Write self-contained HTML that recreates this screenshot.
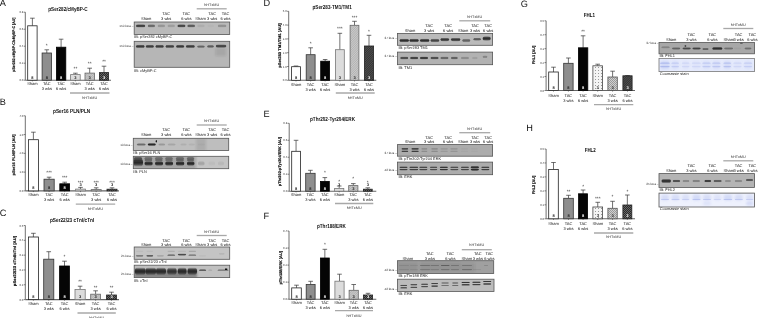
<!DOCTYPE html>
<html><head><meta charset="utf-8"><title>Figure</title>
<style>
html,body{margin:0;padding:0;background:#fff;}
body{width:758px;height:318px;overflow:hidden;font-family:"Liberation Sans", sans-serif;}
svg{display:block;text-rendering:geometricPrecision;will-change:transform;}
</style></head><body>
<svg width="758" height="318" viewBox="0 0 758 318" font-family='"Liberation Sans", sans-serif'>
<defs>
<filter id="bl" x="-50%" y="-100%" width="200%" height="300%"><feGaussianBlur stdDeviation="0.8"/></filter>
<filter id="bl2" x="-50%" y="-100%" width="200%" height="300%"><feGaussianBlur stdDeviation="1.1"/></filter>
<pattern id="hatchL" width="1.6" height="1.6" patternUnits="userSpaceOnUse" patternTransform="rotate(45)"><rect width="1.6" height="1.6" fill="#cbcbcb"/><rect width="0.6" height="1.6" fill="#a9a9a9"/></pattern>
<pattern id="hatchD" width="1.6" height="1.6" patternUnits="userSpaceOnUse" patternTransform="rotate(45)"><rect width="1.6" height="1.6" fill="#333"/><rect width="0.6" height="1.6" fill="#5a5a5a"/></pattern>
<pattern id="dotsL" width="3" height="3" patternUnits="userSpaceOnUse"><rect width="3" height="3" fill="#f4f4f4"/><rect x="1" y="1" width="1" height="1" fill="#999"/></pattern>
<pattern id="chkL" width="2" height="2" patternUnits="userSpaceOnUse"><rect width="2" height="2" fill="#d0d0d0"/><rect width="1" height="1" fill="#9a9a9a"/><rect x="1" y="1" width="1" height="1" fill="#9a9a9a"/></pattern>
<pattern id="chkD" width="2" height="2" patternUnits="userSpaceOnUse"><rect width="2" height="2" fill="#2a2a2a"/><rect width="1" height="1" fill="#666"/><rect x="1" y="1" width="1" height="1" fill="#666"/></pattern>
</defs>
<rect width="758" height="318" fill="#fff"/>
<line x1="25.3" y1="12.2" x2="25.3" y2="80.2" stroke="#333" stroke-width="0.7"/>
<line x1="23.7" y1="12.2" x2="25.3" y2="12.2" stroke="#333" stroke-width="0.6"/>
<text x="23.3" y="13.2" font-size="2.8" text-anchor="end" fill="#333" font-weight="normal" >0.8</text>
<line x1="23.7" y1="29.2" x2="25.3" y2="29.2" stroke="#333" stroke-width="0.6"/>
<text x="23.3" y="30.2" font-size="2.8" text-anchor="end" fill="#333" font-weight="normal" >0.6</text>
<line x1="23.7" y1="46.2" x2="25.3" y2="46.2" stroke="#333" stroke-width="0.6"/>
<text x="23.3" y="47.2" font-size="2.8" text-anchor="end" fill="#333" font-weight="normal" >0.4</text>
<line x1="23.7" y1="63.2" x2="25.3" y2="63.2" stroke="#333" stroke-width="0.6"/>
<text x="23.3" y="64.2" font-size="2.8" text-anchor="end" fill="#333" font-weight="normal" >0.2</text>
<line x1="23.7" y1="80.2" x2="25.3" y2="80.2" stroke="#333" stroke-width="0.6"/>
<text x="23.3" y="81.2" font-size="2.8" text-anchor="end" fill="#333" font-weight="normal" >0.0</text>
<line x1="25.3" y1="80.2" x2="111" y2="80.2" stroke="#666" stroke-width="1.1"/>
<line x1="32.4" y1="25.8" x2="32.4" y2="18.2" stroke="#333" stroke-width="0.7"/>
<line x1="30.1" y1="18.2" x2="34.7" y2="18.2" stroke="#333" stroke-width="0.7"/>
<rect x="27.7" y="25.8" width="9.4" height="54.4" fill="#ffffff" stroke="#222" stroke-width="0.8" />
<line x1="32.4" y1="80.2" x2="32.4" y2="81.4" stroke="#333" stroke-width="0.5"/>
<text x="32.4" y="78.7" font-size="4" text-anchor="middle" fill="#222" font-weight="bold" >8</text>
<text x="32.4" y="85.4" font-size="4" text-anchor="middle" fill="#111" font-weight="normal" >Sham</text>
<line x1="46.8" y1="53" x2="46.8" y2="49.8" stroke="#333" stroke-width="0.7"/>
<line x1="44.5" y1="49.8" x2="49.1" y2="49.8" stroke="#333" stroke-width="0.7"/>
<rect x="42.1" y="53" width="9.4" height="27.2" fill="#8e8e8e" stroke="#333" stroke-width="0.8" />
<line x1="46.8" y1="80.2" x2="46.8" y2="81.4" stroke="#333" stroke-width="0.5"/>
<text x="46.8" y="78.7" font-size="4" text-anchor="middle" fill="#222" font-weight="bold" >8</text>
<text x="46.8" y="47" font-size="4.8" text-anchor="middle" fill="#222" font-weight="normal" >*</text>
<text x="46.8" y="85.4" font-size="4" text-anchor="middle" fill="#111" font-weight="normal" >TAC</text>
<text x="46.8" y="90.4" font-size="4" text-anchor="middle" fill="#111" font-weight="normal" >3 wks</text>
<line x1="61.1" y1="47.2" x2="61.1" y2="39.2" stroke="#333" stroke-width="0.7"/>
<line x1="58.8" y1="39.2" x2="63.4" y2="39.2" stroke="#333" stroke-width="0.7"/>
<rect x="56.4" y="47.2" width="9.4" height="33" fill="#050505" stroke="#000" stroke-width="0.8" />
<line x1="61.1" y1="80.2" x2="61.1" y2="81.4" stroke="#333" stroke-width="0.5"/>
<text x="61.1" y="78.7" font-size="4" text-anchor="middle" fill="#fff" font-weight="bold" >8</text>
<text x="61.1" y="85.4" font-size="4" text-anchor="middle" fill="#111" font-weight="normal" >TAC</text>
<text x="61.1" y="90.4" font-size="4" text-anchor="middle" fill="#111" font-weight="normal" >6 wks</text>
<line x1="75.4" y1="74.6" x2="75.4" y2="73.2" stroke="#333" stroke-width="0.7"/>
<line x1="73.1" y1="73.2" x2="77.7" y2="73.2" stroke="#333" stroke-width="0.7"/>
<rect x="70.6" y="74.6" width="9.6" height="5.6" fill="#dcdcdc" stroke="#777" stroke-width="0.8" />
<line x1="75.4" y1="80.2" x2="75.4" y2="81.4" stroke="#333" stroke-width="0.5"/>
<text x="75.4" y="78.7" font-size="4" text-anchor="middle" fill="#222" font-weight="bold" >3</text>
<text x="75.4" y="69.9" font-size="4.8" text-anchor="middle" fill="#222" font-weight="normal" >**</text>
<text x="75.4" y="85.4" font-size="4" text-anchor="middle" fill="#111" font-weight="normal" >Sham</text>
<line x1="89.7" y1="73.1" x2="89.7" y2="68.2" stroke="#333" stroke-width="0.7"/>
<line x1="87.4" y1="68.2" x2="92" y2="68.2" stroke="#333" stroke-width="0.7"/>
<rect x="85" y="73.1" width="9.4" height="7.1" fill="url(#hatchL)" stroke="#666" stroke-width="0.8" />
<line x1="89.7" y1="80.2" x2="89.7" y2="81.4" stroke="#333" stroke-width="0.5"/>
<text x="89.7" y="78.7" font-size="4" text-anchor="middle" fill="#222" font-weight="bold" >3</text>
<text x="89.7" y="65" font-size="4.8" text-anchor="middle" fill="#222" font-weight="normal" >**</text>
<text x="89.7" y="85.4" font-size="4" text-anchor="middle" fill="#111" font-weight="normal" >TAC</text>
<text x="89.7" y="90.4" font-size="4" text-anchor="middle" fill="#111" font-weight="normal" >3 wks</text>
<line x1="104" y1="72.6" x2="104" y2="66.2" stroke="#333" stroke-width="0.7"/>
<line x1="101.7" y1="66.2" x2="106.3" y2="66.2" stroke="#333" stroke-width="0.7"/>
<rect x="99.4" y="72.6" width="9.2" height="7.6" fill="url(#chkD)" stroke="#222" stroke-width="0.8" />
<line x1="104" y1="80.2" x2="104" y2="81.4" stroke="#333" stroke-width="0.5"/>
<text x="104" y="78.7" font-size="4" text-anchor="middle" fill="#fff" font-weight="bold" >3</text>
<text x="104" y="63" font-size="4.8" text-anchor="middle" fill="#222" font-weight="normal" >**</text>
<text x="104" y="85.4" font-size="4" text-anchor="middle" fill="#111" font-weight="normal" >TAC</text>
<text x="104" y="90.4" font-size="4" text-anchor="middle" fill="#111" font-weight="normal" >6 wks</text>
<line x1="70" y1="93" x2="109.5" y2="93" stroke="#a8a8a8" stroke-width="1.3"/>
<text x="89.75" y="98.8" font-size="3.8" text-anchor="middle" fill="#333" font-weight="normal" >hHTxMU</text>
<text x="68" y="10.5" font-size="5.9" text-anchor="middle" fill="#111" font-weight="bold" textLength="39.4" lengthAdjust="spacingAndGlyphs" >pSer282/cMyBP-C</text>
<text x="0" y="0" font-size="3.9" font-weight="bold" fill="#111" stroke="#111" stroke-width="0.18" text-anchor="middle" textLength="54.4" lengthAdjust="spacingAndGlyphs" transform="translate(15.2,44.8) rotate(-90)">pSer282 cMyBP-C/cMyBP-C [AU]</text>
<text x="-0.3" y="6.4" font-size="9.2" text-anchor="start" fill="#111" font-weight="normal" >A</text>
<line x1="25.3" y1="115.8" x2="25.3" y2="190.9" stroke="#333" stroke-width="0.7"/>
<line x1="23.7" y1="115.8" x2="25.3" y2="115.8" stroke="#333" stroke-width="0.6"/>
<text x="23.3" y="116.8" font-size="2.8" text-anchor="end" fill="#333" font-weight="normal" >4.0</text>
<line x1="23.7" y1="134.57" x2="25.3" y2="134.57" stroke="#333" stroke-width="0.6"/>
<text x="23.3" y="135.57" font-size="2.8" text-anchor="end" fill="#333" font-weight="normal" >3.0</text>
<line x1="23.7" y1="153.35" x2="25.3" y2="153.35" stroke="#333" stroke-width="0.6"/>
<text x="23.3" y="154.35" font-size="2.8" text-anchor="end" fill="#333" font-weight="normal" >2.0</text>
<line x1="23.7" y1="172.12" x2="25.3" y2="172.12" stroke="#333" stroke-width="0.6"/>
<text x="23.3" y="173.12" font-size="2.8" text-anchor="end" fill="#333" font-weight="normal" >1.0</text>
<line x1="23.7" y1="190.9" x2="25.3" y2="190.9" stroke="#333" stroke-width="0.6"/>
<text x="23.3" y="191.9" font-size="2.8" text-anchor="end" fill="#333" font-weight="normal" >0.0</text>
<line x1="25.3" y1="190.9" x2="119" y2="190.9" stroke="#666" stroke-width="1.1"/>
<line x1="33.4" y1="139.7" x2="33.4" y2="132.2" stroke="#333" stroke-width="0.7"/>
<line x1="31.1" y1="132.2" x2="35.7" y2="132.2" stroke="#333" stroke-width="0.7"/>
<rect x="28.4" y="139.7" width="10" height="51.2" fill="#ffffff" stroke="#222" stroke-width="0.8" />
<line x1="33.4" y1="190.9" x2="33.4" y2="192.1" stroke="#333" stroke-width="0.5"/>
<text x="33.4" y="189.4" font-size="4" text-anchor="middle" fill="#222" font-weight="bold" >8</text>
<text x="33.4" y="196.2" font-size="4" text-anchor="middle" fill="#111" font-weight="normal" >Sham</text>
<line x1="49.1" y1="179.2" x2="49.1" y2="177.2" stroke="#333" stroke-width="0.7"/>
<line x1="46.8" y1="177.2" x2="51.4" y2="177.2" stroke="#333" stroke-width="0.7"/>
<rect x="44" y="179.2" width="10.2" height="11.7" fill="#8e8e8e" stroke="#333" stroke-width="0.8" />
<line x1="49.1" y1="190.9" x2="49.1" y2="192.1" stroke="#333" stroke-width="0.5"/>
<text x="49.1" y="189.4" font-size="4" text-anchor="middle" fill="#222" font-weight="bold" >8</text>
<text x="49.1" y="174" font-size="4.8" text-anchor="middle" fill="#222" font-weight="normal" >***</text>
<text x="49.1" y="196.2" font-size="4" text-anchor="middle" fill="#111" font-weight="normal" >TAC</text>
<text x="49.1" y="201.2" font-size="4" text-anchor="middle" fill="#111" font-weight="normal" >3 wks</text>
<line x1="64.7" y1="183.8" x2="64.7" y2="182.2" stroke="#333" stroke-width="0.7"/>
<line x1="62.4" y1="182.2" x2="67" y2="182.2" stroke="#333" stroke-width="0.7"/>
<rect x="59.8" y="183.8" width="9.8" height="7.1" fill="#050505" stroke="#000" stroke-width="0.8" />
<line x1="64.7" y1="190.9" x2="64.7" y2="192.1" stroke="#333" stroke-width="0.5"/>
<text x="64.7" y="189.4" font-size="4" text-anchor="middle" fill="#fff" font-weight="bold" >8</text>
<text x="64.7" y="178.6" font-size="4.8" text-anchor="middle" fill="#222" font-weight="normal" >***</text>
<text x="64.7" y="196.2" font-size="4" text-anchor="middle" fill="#111" font-weight="normal" >TAC</text>
<text x="64.7" y="201.2" font-size="4" text-anchor="middle" fill="#111" font-weight="normal" >6 wks</text>
<line x1="80.5" y1="189.1" x2="80.5" y2="187.4" stroke="#333" stroke-width="0.7"/>
<line x1="78.2" y1="187.4" x2="82.8" y2="187.4" stroke="#333" stroke-width="0.7"/>
<rect x="75.6" y="189.1" width="9.8" height="1.8" fill="#dcdcdc" stroke="#777" stroke-width="0.8" />
<line x1="80.5" y1="190.9" x2="80.5" y2="192.1" stroke="#333" stroke-width="0.5"/>
<text x="80.5" y="186.4" font-size="4" text-anchor="middle" fill="#222" font-weight="bold" >3</text>
<text x="80.5" y="183.8" font-size="4.8" text-anchor="middle" fill="#222" font-weight="normal" >***</text>
<text x="80.5" y="196.2" font-size="4" text-anchor="middle" fill="#111" font-weight="normal" >Sham</text>
<line x1="96.2" y1="189.6" x2="96.2" y2="187.8" stroke="#333" stroke-width="0.7"/>
<line x1="93.9" y1="187.8" x2="98.5" y2="187.8" stroke="#333" stroke-width="0.7"/>
<rect x="91.2" y="189.6" width="10" height="1.3" fill="url(#hatchL)" stroke="#666" stroke-width="0.8" />
<line x1="96.2" y1="190.9" x2="96.2" y2="192.1" stroke="#333" stroke-width="0.5"/>
<text x="96.2" y="186.4" font-size="4" text-anchor="middle" fill="#222" font-weight="bold" >3</text>
<text x="96.2" y="183.8" font-size="4.8" text-anchor="middle" fill="#222" font-weight="normal" >***</text>
<text x="96.2" y="196.2" font-size="4" text-anchor="middle" fill="#111" font-weight="normal" >TAC</text>
<text x="96.2" y="201.2" font-size="4" text-anchor="middle" fill="#111" font-weight="normal" >3 wks</text>
<line x1="112" y1="189.2" x2="112" y2="187.8" stroke="#333" stroke-width="0.7"/>
<line x1="109.7" y1="187.8" x2="114.3" y2="187.8" stroke="#333" stroke-width="0.7"/>
<rect x="107" y="189.2" width="10" height="1.7" fill="url(#chkD)" stroke="#222" stroke-width="0.8" />
<line x1="112" y1="190.9" x2="112" y2="192.1" stroke="#333" stroke-width="0.5"/>
<text x="112" y="186.4" font-size="4" text-anchor="middle" fill="#222" font-weight="bold" >3</text>
<text x="112" y="183.8" font-size="4.8" text-anchor="middle" fill="#222" font-weight="normal" >***</text>
<text x="112" y="196.2" font-size="4" text-anchor="middle" fill="#111" font-weight="normal" >TAC</text>
<text x="112" y="201.2" font-size="4" text-anchor="middle" fill="#111" font-weight="normal" >6 wks</text>
<line x1="75.8" y1="204.2" x2="115.2" y2="204.2" stroke="#a8a8a8" stroke-width="1.3"/>
<text x="95.5" y="209.8" font-size="3.8" text-anchor="middle" fill="#333" font-weight="normal" >hHTxMU</text>
<text x="71.6" y="113" font-size="5.9" text-anchor="middle" fill="#111" font-weight="bold" textLength="37.2" lengthAdjust="spacingAndGlyphs" >pSer16 PLN/PLN</text>
<text x="0" y="0" font-size="3.9" font-weight="bold" fill="#111" stroke="#111" stroke-width="0.18" text-anchor="middle" textLength="41" lengthAdjust="spacingAndGlyphs" transform="translate(15,155) rotate(-90)">pSer16 PLN/PLN [AU]</text>
<text x="-0.3" y="105.4" font-size="9.2" text-anchor="start" fill="#111" font-weight="normal" >B</text>
<line x1="25.3" y1="225.5" x2="25.3" y2="299.6" stroke="#333" stroke-width="0.7"/>
<line x1="23.7" y1="225.5" x2="25.3" y2="225.5" stroke="#333" stroke-width="0.6"/>
<text x="23.3" y="226.5" font-size="2.8" text-anchor="end" fill="#333" font-weight="normal" >0.5</text>
<line x1="23.7" y1="240.32" x2="25.3" y2="240.32" stroke="#333" stroke-width="0.6"/>
<text x="23.3" y="241.32" font-size="2.8" text-anchor="end" fill="#333" font-weight="normal" >0.4</text>
<line x1="23.7" y1="255.14" x2="25.3" y2="255.14" stroke="#333" stroke-width="0.6"/>
<text x="23.3" y="256.14" font-size="2.8" text-anchor="end" fill="#333" font-weight="normal" >0.3</text>
<line x1="23.7" y1="269.96" x2="25.3" y2="269.96" stroke="#333" stroke-width="0.6"/>
<text x="23.3" y="270.96" font-size="2.8" text-anchor="end" fill="#333" font-weight="normal" >0.2</text>
<line x1="23.7" y1="284.78" x2="25.3" y2="284.78" stroke="#333" stroke-width="0.6"/>
<text x="23.3" y="285.78" font-size="2.8" text-anchor="end" fill="#333" font-weight="normal" >0.1</text>
<line x1="23.7" y1="299.6" x2="25.3" y2="299.6" stroke="#333" stroke-width="0.6"/>
<text x="23.3" y="300.6" font-size="2.8" text-anchor="end" fill="#333" font-weight="normal" >0.0</text>
<line x1="25.3" y1="299.6" x2="119" y2="299.6" stroke="#666" stroke-width="1.1"/>
<line x1="33.4" y1="237" x2="33.4" y2="233.3" stroke="#333" stroke-width="0.7"/>
<line x1="31.1" y1="233.3" x2="35.7" y2="233.3" stroke="#333" stroke-width="0.7"/>
<rect x="28.4" y="237" width="10" height="62.6" fill="#ffffff" stroke="#222" stroke-width="0.8" />
<line x1="33.4" y1="299.6" x2="33.4" y2="300.8" stroke="#333" stroke-width="0.5"/>
<text x="33.4" y="298.1" font-size="4" text-anchor="middle" fill="#222" font-weight="bold" >8</text>
<text x="33.4" y="305.4" font-size="4" text-anchor="middle" fill="#111" font-weight="normal" >Sham</text>
<line x1="48.75" y1="259.2" x2="48.75" y2="251.7" stroke="#333" stroke-width="0.7"/>
<line x1="46.45" y1="251.7" x2="51.05" y2="251.7" stroke="#333" stroke-width="0.7"/>
<rect x="43.7" y="259.2" width="10.1" height="40.4" fill="#8e8e8e" stroke="#333" stroke-width="0.8" />
<line x1="48.75" y1="299.6" x2="48.75" y2="300.8" stroke="#333" stroke-width="0.5"/>
<text x="48.75" y="298.1" font-size="4" text-anchor="middle" fill="#222" font-weight="bold" >8</text>
<text x="48.75" y="305.4" font-size="4" text-anchor="middle" fill="#111" font-weight="normal" >TAC</text>
<text x="48.75" y="310.4" font-size="4" text-anchor="middle" fill="#111" font-weight="normal" >3 wks</text>
<line x1="64.5" y1="266" x2="64.5" y2="261.2" stroke="#333" stroke-width="0.7"/>
<line x1="62.2" y1="261.2" x2="66.8" y2="261.2" stroke="#333" stroke-width="0.7"/>
<rect x="59.6" y="266" width="9.8" height="33.6" fill="#050505" stroke="#000" stroke-width="0.8" />
<line x1="64.5" y1="299.6" x2="64.5" y2="300.8" stroke="#333" stroke-width="0.5"/>
<text x="64.5" y="298.1" font-size="4" text-anchor="middle" fill="#fff" font-weight="bold" >8</text>
<text x="64.5" y="258.3" font-size="4.8" text-anchor="middle" fill="#222" font-weight="normal" >*</text>
<text x="64.5" y="305.4" font-size="4" text-anchor="middle" fill="#111" font-weight="normal" >TAC</text>
<text x="64.5" y="310.4" font-size="4" text-anchor="middle" fill="#111" font-weight="normal" >6 wks</text>
<line x1="80.1" y1="289.5" x2="80.1" y2="286.2" stroke="#333" stroke-width="0.7"/>
<line x1="77.8" y1="286.2" x2="82.4" y2="286.2" stroke="#333" stroke-width="0.7"/>
<rect x="75" y="289.5" width="10.2" height="10.1" fill="#dcdcdc" stroke="#777" stroke-width="0.8" />
<line x1="80.1" y1="299.6" x2="80.1" y2="300.8" stroke="#333" stroke-width="0.5"/>
<text x="80.1" y="298.1" font-size="4" text-anchor="middle" fill="#222" font-weight="bold" >3</text>
<text x="80.1" y="283.4" font-size="4.8" text-anchor="middle" fill="#222" font-weight="normal" >**</text>
<text x="80.1" y="305.4" font-size="4" text-anchor="middle" fill="#111" font-weight="normal" >Sham</text>
<line x1="95.6" y1="294.2" x2="95.6" y2="290.8" stroke="#333" stroke-width="0.7"/>
<line x1="93.3" y1="290.8" x2="97.9" y2="290.8" stroke="#333" stroke-width="0.7"/>
<rect x="90.7" y="294.2" width="9.8" height="5.4" fill="url(#hatchL)" stroke="#666" stroke-width="0.8" />
<line x1="95.6" y1="299.6" x2="95.6" y2="300.8" stroke="#333" stroke-width="0.5"/>
<text x="95.6" y="298.1" font-size="4" text-anchor="middle" fill="#222" font-weight="bold" >3</text>
<text x="95.6" y="288.6" font-size="4.8" text-anchor="middle" fill="#222" font-weight="normal" >**</text>
<text x="95.6" y="305.4" font-size="4" text-anchor="middle" fill="#111" font-weight="normal" >TAC</text>
<text x="95.6" y="310.4" font-size="4" text-anchor="middle" fill="#111" font-weight="normal" >3 wks</text>
<line x1="111.5" y1="295" x2="111.5" y2="292.2" stroke="#333" stroke-width="0.7"/>
<line x1="109.2" y1="292.2" x2="113.8" y2="292.2" stroke="#333" stroke-width="0.7"/>
<rect x="106.6" y="295" width="9.8" height="4.6" fill="url(#chkD)" stroke="#222" stroke-width="0.8" />
<line x1="111.5" y1="299.6" x2="111.5" y2="300.8" stroke="#333" stroke-width="0.5"/>
<text x="111.5" y="298.1" font-size="4" text-anchor="middle" fill="#fff" font-weight="bold" >3</text>
<text x="111.5" y="289" font-size="4.8" text-anchor="middle" fill="#222" font-weight="normal" >**</text>
<text x="111.5" y="305.4" font-size="4" text-anchor="middle" fill="#111" font-weight="normal" >TAC</text>
<text x="111.5" y="310.4" font-size="4" text-anchor="middle" fill="#111" font-weight="normal" >6 wks</text>
<line x1="77.5" y1="313" x2="115.8" y2="313" stroke="#a8a8a8" stroke-width="1.3"/>
<text x="96.65" y="318.8" font-size="3.8" text-anchor="middle" fill="#333" font-weight="normal" >hHTxMU</text>
<text x="72.1" y="222.2" font-size="5.9" text-anchor="middle" fill="#111" font-weight="bold" textLength="44.2" lengthAdjust="spacingAndGlyphs" >pSer22/23 cTnI/cTnI</text>
<text x="0" y="0" font-size="3.9" font-weight="bold" fill="#111" stroke="#111" stroke-width="0.18" text-anchor="middle" textLength="50.4" lengthAdjust="spacingAndGlyphs" transform="translate(16.2,261) rotate(-90)">pSer22/23 cTnI/cTnI [AU]</text>
<text x="-0.3" y="216.4" font-size="9.2" text-anchor="start" fill="#111" font-weight="normal" >C</text>
<line x1="288.7" y1="11.3" x2="288.7" y2="80.3" stroke="#333" stroke-width="0.7"/>
<line x1="287.1" y1="11.3" x2="288.7" y2="11.3" stroke="#333" stroke-width="0.6"/>
<text x="286.7" y="12.3" font-size="2.8" text-anchor="end" fill="#333" font-weight="normal" >5.0</text>
<line x1="287.1" y1="25.1" x2="288.7" y2="25.1" stroke="#333" stroke-width="0.6"/>
<text x="286.7" y="26.1" font-size="2.8" text-anchor="end" fill="#333" font-weight="normal" >4.0</text>
<line x1="287.1" y1="38.9" x2="288.7" y2="38.9" stroke="#333" stroke-width="0.6"/>
<text x="286.7" y="39.9" font-size="2.8" text-anchor="end" fill="#333" font-weight="normal" >3.0</text>
<line x1="287.1" y1="52.7" x2="288.7" y2="52.7" stroke="#333" stroke-width="0.6"/>
<text x="286.7" y="53.7" font-size="2.8" text-anchor="end" fill="#333" font-weight="normal" >2.0</text>
<line x1="287.1" y1="66.5" x2="288.7" y2="66.5" stroke="#333" stroke-width="0.6"/>
<text x="286.7" y="67.5" font-size="2.8" text-anchor="end" fill="#333" font-weight="normal" >1.0</text>
<line x1="287.1" y1="80.3" x2="288.7" y2="80.3" stroke="#333" stroke-width="0.6"/>
<text x="286.7" y="81.3" font-size="2.8" text-anchor="end" fill="#333" font-weight="normal" >0.0</text>
<line x1="288.7" y1="80.3" x2="376.3" y2="80.3" stroke="#666" stroke-width="1.1"/>
<line x1="296" y1="66.7" x2="296" y2="66" stroke="#333" stroke-width="0.7"/>
<line x1="293.7" y1="66" x2="298.3" y2="66" stroke="#333" stroke-width="0.7"/>
<rect x="291.6" y="66.7" width="8.8" height="13.6" fill="#ffffff" stroke="#222" stroke-width="0.8" />
<line x1="296" y1="80.3" x2="296" y2="81.5" stroke="#333" stroke-width="0.5"/>
<text x="296" y="78.8" font-size="4" text-anchor="middle" fill="#222" font-weight="bold" >8</text>
<text x="296" y="86" font-size="4" text-anchor="middle" fill="#111" font-weight="normal" >Sham</text>
<line x1="310.65" y1="54.7" x2="310.65" y2="47.8" stroke="#333" stroke-width="0.7"/>
<line x1="308.35" y1="47.8" x2="312.95" y2="47.8" stroke="#333" stroke-width="0.7"/>
<rect x="306.2" y="54.7" width="8.9" height="25.6" fill="#8e8e8e" stroke="#333" stroke-width="0.8" />
<line x1="310.65" y1="80.3" x2="310.65" y2="81.5" stroke="#333" stroke-width="0.5"/>
<text x="310.65" y="78.8" font-size="4" text-anchor="middle" fill="#222" font-weight="bold" >8</text>
<text x="310.65" y="45" font-size="4.8" text-anchor="middle" fill="#222" font-weight="normal" >*</text>
<text x="310.65" y="86" font-size="4" text-anchor="middle" fill="#111" font-weight="normal" >TAC</text>
<text x="310.65" y="90.7" font-size="4" text-anchor="middle" fill="#111" font-weight="normal" >3 wks</text>
<line x1="325.15" y1="61.2" x2="325.15" y2="59.5" stroke="#333" stroke-width="0.7"/>
<line x1="322.85" y1="59.5" x2="327.45" y2="59.5" stroke="#333" stroke-width="0.7"/>
<rect x="320.7" y="61.2" width="8.9" height="19.1" fill="#050505" stroke="#000" stroke-width="0.8" />
<line x1="325.15" y1="80.3" x2="325.15" y2="81.5" stroke="#333" stroke-width="0.5"/>
<text x="325.15" y="78.8" font-size="4" text-anchor="middle" fill="#fff" font-weight="bold" >8</text>
<text x="325.15" y="86" font-size="4" text-anchor="middle" fill="#111" font-weight="normal" >TAC</text>
<text x="325.15" y="90.7" font-size="4" text-anchor="middle" fill="#111" font-weight="normal" >6 wks</text>
<line x1="339.85" y1="49.7" x2="339.85" y2="33.3" stroke="#333" stroke-width="0.7"/>
<line x1="337.55" y1="33.3" x2="342.15" y2="33.3" stroke="#333" stroke-width="0.7"/>
<rect x="335.4" y="49.7" width="8.9" height="30.6" fill="#dcdcdc" stroke="#777" stroke-width="0.8" />
<line x1="339.85" y1="80.3" x2="339.85" y2="81.5" stroke="#333" stroke-width="0.5"/>
<text x="339.85" y="78.8" font-size="4" text-anchor="middle" fill="#222" font-weight="bold" >3</text>
<text x="339.85" y="30" font-size="4.8" text-anchor="middle" fill="#222" font-weight="normal" >***</text>
<text x="339.85" y="86" font-size="4" text-anchor="middle" fill="#111" font-weight="normal" >Sham</text>
<line x1="354.5" y1="25.3" x2="354.5" y2="21.3" stroke="#333" stroke-width="0.7"/>
<line x1="352.2" y1="21.3" x2="356.8" y2="21.3" stroke="#333" stroke-width="0.7"/>
<rect x="350.1" y="25.3" width="8.8" height="55" fill="url(#hatchL)" stroke="#666" stroke-width="0.8" />
<line x1="354.5" y1="80.3" x2="354.5" y2="81.5" stroke="#333" stroke-width="0.5"/>
<text x="354.5" y="78.8" font-size="4" text-anchor="middle" fill="#222" font-weight="bold" >3</text>
<text x="354.5" y="18.7" font-size="4.8" text-anchor="middle" fill="#222" font-weight="normal" >***</text>
<text x="354.5" y="86" font-size="4" text-anchor="middle" fill="#111" font-weight="normal" >TAC</text>
<text x="354.5" y="90.7" font-size="4" text-anchor="middle" fill="#111" font-weight="normal" >3 wks</text>
<line x1="369" y1="46" x2="369" y2="35.3" stroke="#333" stroke-width="0.7"/>
<line x1="366.7" y1="35.3" x2="371.3" y2="35.3" stroke="#333" stroke-width="0.7"/>
<rect x="364.4" y="46" width="9.2" height="34.3" fill="url(#hatchD)" stroke="#222" stroke-width="0.8" />
<line x1="369" y1="80.3" x2="369" y2="81.5" stroke="#333" stroke-width="0.5"/>
<text x="369" y="78.8" font-size="4" text-anchor="middle" fill="#fff" font-weight="bold" >3</text>
<text x="369" y="32.5" font-size="4.8" text-anchor="middle" fill="#222" font-weight="normal" >*</text>
<text x="369" y="86" font-size="4" text-anchor="middle" fill="#111" font-weight="normal" >TAC</text>
<text x="369" y="90.7" font-size="4" text-anchor="middle" fill="#111" font-weight="normal" >6 wks</text>
<line x1="335.8" y1="93" x2="374.7" y2="93" stroke="#a8a8a8" stroke-width="1.3"/>
<text x="355.25" y="98.7" font-size="3.8" text-anchor="middle" fill="#333" font-weight="normal" >hHTxMU</text>
<text x="332.1" y="8.5" font-size="5.9" text-anchor="middle" fill="#111" font-weight="bold" textLength="39.2" lengthAdjust="spacingAndGlyphs" >pSer283-TM1/TM1</text>
<text x="0" y="0" font-size="3.9" font-weight="bold" fill="#111" stroke="#111" stroke-width="0.18" text-anchor="middle" textLength="44.3" lengthAdjust="spacingAndGlyphs" transform="translate(281.2,45.65) rotate(-90)">pSer283 TM1/TM1 [AU]</text>
<text x="263.6" y="6" font-size="9.2" text-anchor="start" fill="#111" font-weight="normal" >D</text>
<line x1="289.2" y1="123.3" x2="289.2" y2="191.2" stroke="#333" stroke-width="0.7"/>
<line x1="287.6" y1="123.3" x2="289.2" y2="123.3" stroke="#333" stroke-width="0.6"/>
<text x="287.2" y="124.3" font-size="2.8" text-anchor="end" fill="#333" font-weight="normal" >0.8</text>
<line x1="287.6" y1="140.28" x2="289.2" y2="140.28" stroke="#333" stroke-width="0.6"/>
<text x="287.2" y="141.28" font-size="2.8" text-anchor="end" fill="#333" font-weight="normal" >0.6</text>
<line x1="287.6" y1="157.25" x2="289.2" y2="157.25" stroke="#333" stroke-width="0.6"/>
<text x="287.2" y="158.25" font-size="2.8" text-anchor="end" fill="#333" font-weight="normal" >0.4</text>
<line x1="287.6" y1="174.22" x2="289.2" y2="174.22" stroke="#333" stroke-width="0.6"/>
<text x="287.2" y="175.22" font-size="2.8" text-anchor="end" fill="#333" font-weight="normal" >0.2</text>
<line x1="287.6" y1="191.2" x2="289.2" y2="191.2" stroke="#333" stroke-width="0.6"/>
<text x="287.2" y="192.2" font-size="2.8" text-anchor="end" fill="#333" font-weight="normal" >0.0</text>
<line x1="289.2" y1="191.2" x2="376.3" y2="191.2" stroke="#666" stroke-width="1.1"/>
<line x1="296.05" y1="151.3" x2="296.05" y2="140.3" stroke="#333" stroke-width="0.7"/>
<line x1="293.75" y1="140.3" x2="298.35" y2="140.3" stroke="#333" stroke-width="0.7"/>
<rect x="291.7" y="151.3" width="8.7" height="39.9" fill="#ffffff" stroke="#222" stroke-width="0.8" />
<line x1="296.05" y1="191.2" x2="296.05" y2="192.4" stroke="#333" stroke-width="0.5"/>
<text x="296.05" y="189.7" font-size="4" text-anchor="middle" fill="#222" font-weight="bold" >8</text>
<text x="296.05" y="196" font-size="4" text-anchor="middle" fill="#111" font-weight="normal" >Sham</text>
<line x1="310.4" y1="173.3" x2="310.4" y2="170.3" stroke="#333" stroke-width="0.7"/>
<line x1="308.1" y1="170.3" x2="312.7" y2="170.3" stroke="#333" stroke-width="0.7"/>
<rect x="305.7" y="173.3" width="9.4" height="17.9" fill="#8e8e8e" stroke="#333" stroke-width="0.8" />
<line x1="310.4" y1="191.2" x2="310.4" y2="192.4" stroke="#333" stroke-width="0.5"/>
<text x="310.4" y="189.7" font-size="4" text-anchor="middle" fill="#222" font-weight="bold" >8</text>
<text x="310.4" y="196" font-size="4" text-anchor="middle" fill="#111" font-weight="normal" >TAC</text>
<text x="310.4" y="201" font-size="4" text-anchor="middle" fill="#111" font-weight="normal" >3 wks</text>
<line x1="324.85" y1="181.4" x2="324.85" y2="177.6" stroke="#333" stroke-width="0.7"/>
<line x1="322.55" y1="177.6" x2="327.15" y2="177.6" stroke="#333" stroke-width="0.7"/>
<rect x="320.4" y="181.4" width="8.9" height="9.8" fill="#050505" stroke="#000" stroke-width="0.8" />
<line x1="324.85" y1="191.2" x2="324.85" y2="192.4" stroke="#333" stroke-width="0.5"/>
<text x="324.85" y="189.7" font-size="4" text-anchor="middle" fill="#fff" font-weight="bold" >8</text>
<text x="324.85" y="174.4" font-size="4.8" text-anchor="middle" fill="#222" font-weight="normal" >*</text>
<text x="324.85" y="196" font-size="4" text-anchor="middle" fill="#111" font-weight="normal" >TAC</text>
<text x="324.85" y="201" font-size="4" text-anchor="middle" fill="#111" font-weight="normal" >6 wks</text>
<line x1="339.2" y1="188.4" x2="339.2" y2="186" stroke="#333" stroke-width="0.7"/>
<line x1="336.9" y1="186" x2="341.5" y2="186" stroke="#333" stroke-width="0.7"/>
<rect x="334.6" y="188.4" width="9.2" height="2.8" fill="#dcdcdc" stroke="#777" stroke-width="0.8" />
<line x1="339.2" y1="191.2" x2="339.2" y2="192.4" stroke="#333" stroke-width="0.5"/>
<text x="339.2" y="186.2" font-size="4" text-anchor="middle" fill="#222" font-weight="bold" >3</text>
<text x="339.2" y="183.2" font-size="4.8" text-anchor="middle" fill="#222" font-weight="normal" >*</text>
<text x="339.2" y="196" font-size="4" text-anchor="middle" fill="#111" font-weight="normal" >Sham</text>
<line x1="353.3" y1="185.6" x2="353.3" y2="183.6" stroke="#333" stroke-width="0.7"/>
<line x1="351" y1="183.6" x2="355.6" y2="183.6" stroke="#333" stroke-width="0.7"/>
<rect x="348.7" y="185.6" width="9.2" height="5.6" fill="url(#hatchL)" stroke="#666" stroke-width="0.8" />
<line x1="353.3" y1="191.2" x2="353.3" y2="192.4" stroke="#333" stroke-width="0.5"/>
<text x="353.3" y="189.7" font-size="4" text-anchor="middle" fill="#222" font-weight="bold" >3</text>
<text x="353.3" y="179.8" font-size="4.8" text-anchor="middle" fill="#222" font-weight="normal" >*</text>
<text x="353.3" y="196" font-size="4" text-anchor="middle" fill="#111" font-weight="normal" >TAC</text>
<text x="353.3" y="201" font-size="4" text-anchor="middle" fill="#111" font-weight="normal" >3 wks</text>
<line x1="367.8" y1="189.2" x2="367.8" y2="187.8" stroke="#333" stroke-width="0.7"/>
<line x1="365.5" y1="187.8" x2="370.1" y2="187.8" stroke="#333" stroke-width="0.7"/>
<rect x="363.4" y="189.2" width="8.8" height="2" fill="url(#chkD)" stroke="#222" stroke-width="0.8" />
<line x1="367.8" y1="191.2" x2="367.8" y2="192.4" stroke="#333" stroke-width="0.5"/>
<text x="367.8" y="186.4" font-size="4" text-anchor="middle" fill="#222" font-weight="bold" >3</text>
<text x="367.8" y="183.6" font-size="4.8" text-anchor="middle" fill="#222" font-weight="normal" >*</text>
<text x="367.8" y="196" font-size="4" text-anchor="middle" fill="#111" font-weight="normal" >TAC</text>
<text x="367.8" y="201" font-size="4" text-anchor="middle" fill="#111" font-weight="normal" >6 wks</text>
<line x1="335" y1="203.5" x2="373.3" y2="203.5" stroke="#a8a8a8" stroke-width="1.3"/>
<text x="354.15" y="209" font-size="3.8" text-anchor="middle" fill="#333" font-weight="normal" >hHTxMU</text>
<text x="332.5" y="120.8" font-size="5.9" text-anchor="middle" fill="#111" font-weight="bold" textLength="45" lengthAdjust="spacingAndGlyphs" >pThr202-Tyr204/ERK</text>
<text x="0" y="0" font-size="3.9" font-weight="bold" fill="#111" stroke="#111" stroke-width="0.18" text-anchor="middle" textLength="49.2" lengthAdjust="spacingAndGlyphs" transform="translate(281.3,161.6) rotate(-90)">pThr202-pTyr204/ERK [AU]</text>
<text x="263.6" y="116.5" font-size="9.2" text-anchor="start" fill="#111" font-weight="normal" >E</text>
<line x1="289" y1="231" x2="289" y2="299.2" stroke="#333" stroke-width="0.7"/>
<line x1="287.4" y1="231" x2="289" y2="231" stroke="#333" stroke-width="0.6"/>
<text x="287" y="232" font-size="2.8" text-anchor="end" fill="#333" font-weight="normal" >0.4</text>
<line x1="287.4" y1="248.05" x2="289" y2="248.05" stroke="#333" stroke-width="0.6"/>
<text x="287" y="249.05" font-size="2.8" text-anchor="end" fill="#333" font-weight="normal" >0.3</text>
<line x1="287.4" y1="265.1" x2="289" y2="265.1" stroke="#333" stroke-width="0.6"/>
<text x="287" y="266.1" font-size="2.8" text-anchor="end" fill="#333" font-weight="normal" >0.2</text>
<line x1="287.4" y1="282.15" x2="289" y2="282.15" stroke="#333" stroke-width="0.6"/>
<text x="287" y="283.15" font-size="2.8" text-anchor="end" fill="#333" font-weight="normal" >0.1</text>
<line x1="287.4" y1="299.2" x2="289" y2="299.2" stroke="#333" stroke-width="0.6"/>
<text x="287" y="300.2" font-size="2.8" text-anchor="end" fill="#333" font-weight="normal" >0.0</text>
<line x1="289" y1="299.2" x2="376.3" y2="299.2" stroke="#666" stroke-width="1.1"/>
<line x1="296.5" y1="287.9" x2="296.5" y2="285.2" stroke="#333" stroke-width="0.7"/>
<line x1="294.2" y1="285.2" x2="298.8" y2="285.2" stroke="#333" stroke-width="0.7"/>
<rect x="291.7" y="287.9" width="9.6" height="11.3" fill="#ffffff" stroke="#222" stroke-width="0.8" />
<line x1="296.5" y1="299.2" x2="296.5" y2="300.4" stroke="#333" stroke-width="0.5"/>
<text x="296.5" y="297.7" font-size="4" text-anchor="middle" fill="#222" font-weight="bold" >8</text>
<text x="296.5" y="304.4" font-size="4" text-anchor="middle" fill="#111" font-weight="normal" >Sham</text>
<line x1="310.65" y1="284.5" x2="310.65" y2="281.3" stroke="#333" stroke-width="0.7"/>
<line x1="308.35" y1="281.3" x2="312.95" y2="281.3" stroke="#333" stroke-width="0.7"/>
<rect x="306.2" y="284.5" width="8.9" height="14.7" fill="#8e8e8e" stroke="#333" stroke-width="0.8" />
<line x1="310.65" y1="299.2" x2="310.65" y2="300.4" stroke="#333" stroke-width="0.5"/>
<text x="310.65" y="297.7" font-size="4" text-anchor="middle" fill="#222" font-weight="bold" >8</text>
<text x="310.65" y="304.4" font-size="4" text-anchor="middle" fill="#111" font-weight="normal" >TAC</text>
<text x="310.65" y="309.4" font-size="4" text-anchor="middle" fill="#111" font-weight="normal" >3 wks</text>
<line x1="324.85" y1="258" x2="324.85" y2="249.3" stroke="#333" stroke-width="0.7"/>
<line x1="322.55" y1="249.3" x2="327.15" y2="249.3" stroke="#333" stroke-width="0.7"/>
<rect x="320.4" y="258" width="8.9" height="41.2" fill="#050505" stroke="#000" stroke-width="0.8" />
<line x1="324.85" y1="299.2" x2="324.85" y2="300.4" stroke="#333" stroke-width="0.5"/>
<text x="324.85" y="297.7" font-size="4" text-anchor="middle" fill="#fff" font-weight="bold" >8</text>
<text x="324.85" y="246" font-size="4.8" text-anchor="middle" fill="#222" font-weight="normal" >*</text>
<text x="324.85" y="304.4" font-size="4" text-anchor="middle" fill="#111" font-weight="normal" >TAC</text>
<text x="324.85" y="309.4" font-size="4" text-anchor="middle" fill="#111" font-weight="normal" >6 wks</text>
<line x1="339.5" y1="281.2" x2="339.5" y2="274.2" stroke="#333" stroke-width="0.7"/>
<line x1="337.2" y1="274.2" x2="341.8" y2="274.2" stroke="#333" stroke-width="0.7"/>
<rect x="334.9" y="281.2" width="9.2" height="18" fill="#dcdcdc" stroke="#777" stroke-width="0.8" />
<line x1="339.5" y1="299.2" x2="339.5" y2="300.4" stroke="#333" stroke-width="0.5"/>
<text x="339.5" y="297.7" font-size="4" text-anchor="middle" fill="#222" font-weight="bold" >3</text>
<text x="339.5" y="304.4" font-size="4" text-anchor="middle" fill="#111" font-weight="normal" >Sham</text>
<line x1="353.7" y1="290.3" x2="353.7" y2="284.5" stroke="#333" stroke-width="0.7"/>
<line x1="351.4" y1="284.5" x2="356" y2="284.5" stroke="#333" stroke-width="0.7"/>
<rect x="349.1" y="290.3" width="9.2" height="8.9" fill="url(#hatchL)" stroke="#666" stroke-width="0.8" />
<line x1="353.7" y1="299.2" x2="353.7" y2="300.4" stroke="#333" stroke-width="0.5"/>
<text x="353.7" y="297.7" font-size="4" text-anchor="middle" fill="#222" font-weight="bold" >3</text>
<text x="353.7" y="304.4" font-size="4" text-anchor="middle" fill="#111" font-weight="normal" >TAC</text>
<text x="353.7" y="309.4" font-size="4" text-anchor="middle" fill="#111" font-weight="normal" >3 wks</text>
<line x1="368" y1="295" x2="368" y2="293.3" stroke="#333" stroke-width="0.7"/>
<line x1="365.7" y1="293.3" x2="370.3" y2="293.3" stroke="#333" stroke-width="0.7"/>
<rect x="363.4" y="295" width="9.2" height="4.2" fill="url(#chkD)" stroke="#222" stroke-width="0.8" />
<line x1="368" y1="299.2" x2="368" y2="300.4" stroke="#333" stroke-width="0.5"/>
<text x="368" y="297.7" font-size="4" text-anchor="middle" fill="#fff" font-weight="bold" >3</text>
<text x="368" y="304.4" font-size="4" text-anchor="middle" fill="#111" font-weight="normal" >TAC</text>
<text x="368" y="309.4" font-size="4" text-anchor="middle" fill="#111" font-weight="normal" >6 wks</text>
<line x1="335" y1="310.6" x2="373" y2="310.6" stroke="#a8a8a8" stroke-width="1.3"/>
<text x="354" y="316.5" font-size="3.8" text-anchor="middle" fill="#333" font-weight="normal" >hHTxMU</text>
<text x="331.4" y="227.8" font-size="5.9" text-anchor="middle" fill="#111" font-weight="bold" textLength="28.8" lengthAdjust="spacingAndGlyphs" >pThr188/ERK</text>
<text x="0" y="0" font-size="3.9" font-weight="bold" fill="#111" stroke="#111" stroke-width="0.18" text-anchor="middle" textLength="33.6" lengthAdjust="spacingAndGlyphs" transform="translate(281.5,267.8) rotate(-90)">pThr188/ERK [AU]</text>
<text x="263.6" y="218.5" font-size="9.2" text-anchor="start" fill="#111" font-weight="normal" >F</text>
<line x1="546.1" y1="20.8" x2="546.1" y2="90.5" stroke="#333" stroke-width="0.7"/>
<line x1="544.5" y1="20.8" x2="546.1" y2="20.8" stroke="#333" stroke-width="0.6"/>
<text x="544.1" y="21.8" font-size="2.8" text-anchor="end" fill="#333" font-weight="normal" >0.5</text>
<line x1="544.5" y1="34.74" x2="546.1" y2="34.74" stroke="#333" stroke-width="0.6"/>
<text x="544.1" y="35.74" font-size="2.8" text-anchor="end" fill="#333" font-weight="normal" >0.4</text>
<line x1="544.5" y1="48.68" x2="546.1" y2="48.68" stroke="#333" stroke-width="0.6"/>
<text x="544.1" y="49.68" font-size="2.8" text-anchor="end" fill="#333" font-weight="normal" >0.3</text>
<line x1="544.5" y1="62.62" x2="546.1" y2="62.62" stroke="#333" stroke-width="0.6"/>
<text x="544.1" y="63.62" font-size="2.8" text-anchor="end" fill="#333" font-weight="normal" >0.2</text>
<line x1="544.5" y1="76.56" x2="546.1" y2="76.56" stroke="#333" stroke-width="0.6"/>
<text x="544.1" y="77.56" font-size="2.8" text-anchor="end" fill="#333" font-weight="normal" >0.1</text>
<line x1="544.5" y1="90.5" x2="546.1" y2="90.5" stroke="#333" stroke-width="0.6"/>
<text x="544.1" y="91.5" font-size="2.8" text-anchor="end" fill="#333" font-weight="normal" >0.0</text>
<line x1="546.1" y1="90.5" x2="635" y2="90.5" stroke="#666" stroke-width="1.1"/>
<line x1="553.5" y1="72" x2="553.5" y2="67.2" stroke="#333" stroke-width="0.7"/>
<line x1="551.2" y1="67.2" x2="555.8" y2="67.2" stroke="#333" stroke-width="0.7"/>
<rect x="548.7" y="72" width="9.6" height="18.5" fill="#ffffff" stroke="#222" stroke-width="0.8" />
<line x1="553.5" y1="90.5" x2="553.5" y2="91.7" stroke="#333" stroke-width="0.5"/>
<text x="553.5" y="89" font-size="4" text-anchor="middle" fill="#222" font-weight="bold" >8</text>
<text x="553.5" y="96.9" font-size="4" text-anchor="middle" fill="#111" font-weight="normal" >Sham</text>
<line x1="568.4" y1="63.3" x2="568.4" y2="58" stroke="#333" stroke-width="0.7"/>
<line x1="566.1" y1="58" x2="570.7" y2="58" stroke="#333" stroke-width="0.7"/>
<rect x="563.7" y="63.3" width="9.4" height="27.2" fill="#8e8e8e" stroke="#333" stroke-width="0.8" />
<line x1="568.4" y1="90.5" x2="568.4" y2="91.7" stroke="#333" stroke-width="0.5"/>
<text x="568.4" y="89" font-size="4" text-anchor="middle" fill="#222" font-weight="bold" >8</text>
<text x="568.4" y="96.9" font-size="4" text-anchor="middle" fill="#111" font-weight="normal" >TAC</text>
<text x="568.4" y="101.9" font-size="4" text-anchor="middle" fill="#111" font-weight="normal" >3 wks</text>
<line x1="583.1" y1="47.8" x2="583.1" y2="35.8" stroke="#333" stroke-width="0.7"/>
<line x1="580.8" y1="35.8" x2="585.4" y2="35.8" stroke="#333" stroke-width="0.7"/>
<rect x="578.4" y="47.8" width="9.4" height="42.7" fill="#050505" stroke="#000" stroke-width="0.8" />
<line x1="583.1" y1="90.5" x2="583.1" y2="91.7" stroke="#333" stroke-width="0.5"/>
<text x="583.1" y="89" font-size="4" text-anchor="middle" fill="#fff" font-weight="bold" >8</text>
<text x="583.1" y="32.5" font-size="4.8" text-anchor="middle" fill="#222" font-weight="normal" >**</text>
<text x="583.1" y="96.9" font-size="4" text-anchor="middle" fill="#111" font-weight="normal" >TAC</text>
<text x="583.1" y="101.9" font-size="4" text-anchor="middle" fill="#111" font-weight="normal" >6 wks</text>
<line x1="597.7" y1="65.8" x2="597.7" y2="64.2" stroke="#333" stroke-width="0.7"/>
<line x1="595.4" y1="64.2" x2="600" y2="64.2" stroke="#333" stroke-width="0.7"/>
<rect x="592.9" y="65.8" width="9.6" height="24.7" fill="url(#dotsL)" stroke="#444" stroke-width="0.8" />
<line x1="597.7" y1="90.5" x2="597.7" y2="91.7" stroke="#333" stroke-width="0.5"/>
<text x="597.7" y="89" font-size="4" text-anchor="middle" fill="#222" font-weight="bold" >3</text>
<text x="597.7" y="96.9" font-size="4" text-anchor="middle" fill="#111" font-weight="normal" >Sham</text>
<line x1="612.6" y1="77" x2="612.6" y2="71.2" stroke="#333" stroke-width="0.7"/>
<line x1="610.3" y1="71.2" x2="614.9" y2="71.2" stroke="#333" stroke-width="0.7"/>
<rect x="607.9" y="77" width="9.4" height="13.5" fill="url(#chkL)" stroke="#555" stroke-width="0.8" />
<line x1="612.6" y1="90.5" x2="612.6" y2="91.7" stroke="#333" stroke-width="0.5"/>
<text x="612.6" y="89" font-size="4" text-anchor="middle" fill="#222" font-weight="bold" >3</text>
<text x="612.6" y="96.9" font-size="4" text-anchor="middle" fill="#111" font-weight="normal" >TAC</text>
<text x="612.6" y="101.9" font-size="4" text-anchor="middle" fill="#111" font-weight="normal" >3 wks</text>
<line x1="627.5" y1="75.8" x2="627.5" y2="75.5" stroke="#333" stroke-width="0.7"/>
<line x1="625.2" y1="75.5" x2="629.8" y2="75.5" stroke="#333" stroke-width="0.7"/>
<rect x="622.9" y="75.8" width="9.2" height="14.7" fill="url(#hatchD)" stroke="#222" stroke-width="0.8" />
<line x1="627.5" y1="90.5" x2="627.5" y2="91.7" stroke="#333" stroke-width="0.5"/>
<text x="627.5" y="89" font-size="4" text-anchor="middle" fill="#fff" font-weight="bold" >3</text>
<text x="627.5" y="96.9" font-size="4" text-anchor="middle" fill="#111" font-weight="normal" >TAC</text>
<text x="627.5" y="101.9" font-size="4" text-anchor="middle" fill="#111" font-weight="normal" >6 wks</text>
<line x1="594" y1="104.7" x2="633.3" y2="104.7" stroke="#a8a8a8" stroke-width="1.3"/>
<text x="613.65" y="110.2" font-size="3.8" text-anchor="middle" fill="#333" font-weight="normal" >hHTxMU</text>
<text x="589.4" y="16.8" font-size="5.9" text-anchor="middle" fill="#111" font-weight="bold" textLength="11.2" lengthAdjust="spacingAndGlyphs" >FHL1</text>
<text x="0" y="0" font-size="3.9" font-weight="bold" fill="#111" stroke="#111" stroke-width="0.18" text-anchor="middle" textLength="18.4" lengthAdjust="spacingAndGlyphs" transform="translate(534.6,55) rotate(-90)">FHL1 [AU]</text>
<text x="520.8" y="6.9" font-size="9.2" text-anchor="start" fill="#111" font-weight="normal" >G</text>
<line x1="546.1" y1="149" x2="546.1" y2="218.8" stroke="#333" stroke-width="0.7"/>
<line x1="544.5" y1="149" x2="546.1" y2="149" stroke="#333" stroke-width="0.6"/>
<text x="544.1" y="150" font-size="2.8" text-anchor="end" fill="#333" font-weight="normal" >0.5</text>
<line x1="544.5" y1="162.96" x2="546.1" y2="162.96" stroke="#333" stroke-width="0.6"/>
<text x="544.1" y="163.96" font-size="2.8" text-anchor="end" fill="#333" font-weight="normal" >0.4</text>
<line x1="544.5" y1="176.92" x2="546.1" y2="176.92" stroke="#333" stroke-width="0.6"/>
<text x="544.1" y="177.92" font-size="2.8" text-anchor="end" fill="#333" font-weight="normal" >0.3</text>
<line x1="544.5" y1="190.88" x2="546.1" y2="190.88" stroke="#333" stroke-width="0.6"/>
<text x="544.1" y="191.88" font-size="2.8" text-anchor="end" fill="#333" font-weight="normal" >0.2</text>
<line x1="544.5" y1="204.84" x2="546.1" y2="204.84" stroke="#333" stroke-width="0.6"/>
<text x="544.1" y="205.84" font-size="2.8" text-anchor="end" fill="#333" font-weight="normal" >0.1</text>
<line x1="544.5" y1="218.8" x2="546.1" y2="218.8" stroke="#333" stroke-width="0.6"/>
<text x="544.1" y="219.8" font-size="2.8" text-anchor="end" fill="#333" font-weight="normal" >0.0</text>
<line x1="546.1" y1="218.8" x2="635" y2="218.8" stroke="#666" stroke-width="1.1"/>
<line x1="553.5" y1="169.5" x2="553.5" y2="162.5" stroke="#333" stroke-width="0.7"/>
<line x1="551.2" y1="162.5" x2="555.8" y2="162.5" stroke="#333" stroke-width="0.7"/>
<rect x="548.7" y="169.5" width="9.6" height="49.3" fill="#ffffff" stroke="#222" stroke-width="0.8" />
<line x1="553.5" y1="218.8" x2="553.5" y2="220" stroke="#333" stroke-width="0.5"/>
<text x="553.5" y="217.3" font-size="4" text-anchor="middle" fill="#222" font-weight="bold" >8</text>
<text x="553.5" y="225.2" font-size="4" text-anchor="middle" fill="#111" font-weight="normal" >Sham</text>
<line x1="568.5" y1="198.3" x2="568.5" y2="195.3" stroke="#333" stroke-width="0.7"/>
<line x1="566.2" y1="195.3" x2="570.8" y2="195.3" stroke="#333" stroke-width="0.7"/>
<rect x="563.7" y="198.3" width="9.6" height="20.5" fill="#8e8e8e" stroke="#333" stroke-width="0.8" />
<line x1="568.5" y1="218.8" x2="568.5" y2="220" stroke="#333" stroke-width="0.5"/>
<text x="568.5" y="217.3" font-size="4" text-anchor="middle" fill="#222" font-weight="bold" >8</text>
<text x="568.5" y="193" font-size="4.8" text-anchor="middle" fill="#222" font-weight="normal" >**</text>
<text x="568.5" y="225.2" font-size="4" text-anchor="middle" fill="#111" font-weight="normal" >TAC</text>
<text x="568.5" y="230.2" font-size="4" text-anchor="middle" fill="#111" font-weight="normal" >3 wks</text>
<line x1="583.1" y1="193.8" x2="583.1" y2="190" stroke="#333" stroke-width="0.7"/>
<line x1="580.8" y1="190" x2="585.4" y2="190" stroke="#333" stroke-width="0.7"/>
<rect x="578.6" y="193.8" width="9" height="25" fill="#050505" stroke="#000" stroke-width="0.8" />
<line x1="583.1" y1="218.8" x2="583.1" y2="220" stroke="#333" stroke-width="0.5"/>
<text x="583.1" y="217.3" font-size="4" text-anchor="middle" fill="#fff" font-weight="bold" >8</text>
<text x="583.1" y="187.8" font-size="4.8" text-anchor="middle" fill="#222" font-weight="normal" >*</text>
<text x="583.1" y="225.2" font-size="4" text-anchor="middle" fill="#111" font-weight="normal" >TAC</text>
<text x="583.1" y="230.2" font-size="4" text-anchor="middle" fill="#111" font-weight="normal" >6 wks</text>
<line x1="597.75" y1="207" x2="597.75" y2="202.3" stroke="#333" stroke-width="0.7"/>
<line x1="595.45" y1="202.3" x2="600.05" y2="202.3" stroke="#333" stroke-width="0.7"/>
<rect x="592.9" y="207" width="9.7" height="11.8" fill="url(#dotsL)" stroke="#444" stroke-width="0.8" />
<line x1="597.75" y1="218.8" x2="597.75" y2="220" stroke="#333" stroke-width="0.5"/>
<text x="597.75" y="217.3" font-size="4" text-anchor="middle" fill="#222" font-weight="bold" >3</text>
<text x="597.75" y="200" font-size="4.8" text-anchor="middle" fill="#222" font-weight="normal" >***</text>
<text x="597.75" y="225.2" font-size="4" text-anchor="middle" fill="#111" font-weight="normal" >Sham</text>
<line x1="612.55" y1="208.3" x2="612.55" y2="201.3" stroke="#333" stroke-width="0.7"/>
<line x1="610.25" y1="201.3" x2="614.85" y2="201.3" stroke="#333" stroke-width="0.7"/>
<rect x="607.9" y="208.3" width="9.3" height="10.5" fill="url(#chkL)" stroke="#555" stroke-width="0.8" />
<line x1="612.55" y1="218.8" x2="612.55" y2="220" stroke="#333" stroke-width="0.5"/>
<text x="612.55" y="217.3" font-size="4" text-anchor="middle" fill="#222" font-weight="bold" >3</text>
<text x="612.55" y="198.3" font-size="4.8" text-anchor="middle" fill="#222" font-weight="normal" >*</text>
<text x="612.55" y="225.2" font-size="4" text-anchor="middle" fill="#111" font-weight="normal" >TAC</text>
<text x="612.55" y="230.2" font-size="4" text-anchor="middle" fill="#111" font-weight="normal" >3 wks</text>
<line x1="627.35" y1="205" x2="627.35" y2="195" stroke="#333" stroke-width="0.7"/>
<line x1="625.05" y1="195" x2="629.65" y2="195" stroke="#333" stroke-width="0.7"/>
<rect x="622.9" y="205" width="8.9" height="13.8" fill="url(#chkD)" stroke="#222" stroke-width="0.8" />
<line x1="627.35" y1="218.8" x2="627.35" y2="220" stroke="#333" stroke-width="0.5"/>
<text x="627.35" y="217.3" font-size="4" text-anchor="middle" fill="#fff" font-weight="bold" >3</text>
<text x="627.35" y="192.5" font-size="4.8" text-anchor="middle" fill="#222" font-weight="normal" >*</text>
<text x="627.35" y="225.2" font-size="4" text-anchor="middle" fill="#111" font-weight="normal" >TAC</text>
<text x="627.35" y="230.2" font-size="4" text-anchor="middle" fill="#111" font-weight="normal" >6 wks</text>
<line x1="594" y1="233" x2="633.3" y2="233" stroke="#a8a8a8" stroke-width="1.3"/>
<text x="613.65" y="238.3" font-size="3.8" text-anchor="middle" fill="#333" font-weight="normal" >hHTxMU</text>
<text x="590.25" y="151.5" font-size="5.9" text-anchor="middle" fill="#111" font-weight="bold" textLength="11.1" lengthAdjust="spacingAndGlyphs" >FHL2</text>
<text x="0" y="0" font-size="3.9" font-weight="bold" fill="#111" stroke="#111" stroke-width="0.18" text-anchor="middle" textLength="18.4" lengthAdjust="spacingAndGlyphs" transform="translate(534.6,185) rotate(-90)">FHL2 [AU]</text>
<text x="526.2" y="131" font-size="9.2" text-anchor="start" fill="#111" font-weight="normal" >H</text>
<text x="146.2" y="20.2" font-size="4" text-anchor="middle" fill="#111" font-weight="normal" >Sham</text>
<text x="166.2" y="15.2" font-size="4" text-anchor="middle" fill="#111" font-weight="normal" >TAC</text>
<text x="166.2" y="20.2" font-size="4" text-anchor="middle" fill="#111" font-weight="normal" >3 wks</text>
<text x="186.4" y="15.2" font-size="4" text-anchor="middle" fill="#111" font-weight="normal" >TAC</text>
<text x="186.4" y="20.2" font-size="4" text-anchor="middle" fill="#111" font-weight="normal" >6 wks</text>
<text x="200.5" y="20.2" font-size="4" text-anchor="middle" fill="#111" font-weight="normal" >Sham</text>
<text x="212.2" y="15.2" font-size="4" text-anchor="middle" fill="#111" font-weight="normal" >TAC</text>
<text x="212.2" y="20.2" font-size="4" text-anchor="middle" fill="#111" font-weight="normal" >3 wks</text>
<text x="225.5" y="15.2" font-size="4" text-anchor="middle" fill="#111" font-weight="normal" >TAC</text>
<text x="225.5" y="20.2" font-size="4" text-anchor="middle" fill="#111" font-weight="normal" >6 wks</text>
<line x1="196.7" y1="8.8" x2="226.7" y2="8.8" stroke="#a8a8a8" stroke-width="1.3"/>
<text x="211.7" y="5.8" font-size="3.8" text-anchor="middle" fill="#333" font-weight="normal" >hHTxMU</text>
<rect x="134.2" y="22" width="95.5" height="12.5" fill="rgb(186,186,186)" stroke="none" stroke-width="0.8" />
<clipPath id="c508"><rect x="134.2" y="22" width="95.5" height="12.5"/></clipPath>
<g clip-path="url(#c508)">
<rect x="136" y="24.1" width="9.2" height="3.6" rx="2.16" ry="1.8" fill="url(#vg40_40_40)" fill-opacity="0.9"/>
<rect x="147.8" y="24.1" width="7.2" height="3.6" rx="2.16" ry="1.8" fill="url(#vg40_40_40)" fill-opacity="0.6"/>
<rect x="157.7" y="24.1" width="7.3" height="3.6" rx="2.16" ry="1.8" fill="url(#vg40_40_40)" fill-opacity="0.28"/>
<rect x="167.6" y="24.1" width="7.3" height="3.6" rx="2.16" ry="1.8" fill="url(#vg40_40_40)" fill-opacity="0.22"/>
<rect x="177.5" y="24.1" width="7.9" height="3.6" rx="2.16" ry="1.8" fill="url(#vg40_40_40)" fill-opacity="0.85"/>
<rect x="187.4" y="24.1" width="7.6" height="3.6" rx="2.16" ry="1.8" fill="url(#vg40_40_40)" fill-opacity="0.7"/>
<rect x="197.3" y="24.1" width="7.3" height="3.6" rx="2.16" ry="1.8" fill="url(#vg40_40_40)" fill-opacity="0.1"/>
<rect x="207.5" y="24.1" width="6.5" height="3.6" rx="2.16" ry="1.8" fill="url(#vg40_40_40)" fill-opacity="0.04"/>
<rect x="217.8" y="24.1" width="8.5" height="3.6" rx="2.16" ry="1.8" fill="url(#vg40_40_40)" fill-opacity="0.3"/>
</g>
<rect x="134.2" y="22" width="95.5" height="12.5" fill="none" stroke="#555" stroke-width="0.8" />
<text x="133.4" y="26.9" font-size="3.1" text-anchor="end" fill="#333" font-weight="normal" >150 kDa –</text>
<text x="134.2" y="37.6" font-size="3.9" text-anchor="start" fill="#222" font-weight="normal" >IB: pSer282 cMyBP-C</text>
<rect x="134.2" y="41.3" width="95.5" height="26" fill="rgb(182,182,182)" stroke="none" stroke-width="0.8" />
<clipPath id="c524"><rect x="134.2" y="41.3" width="95.5" height="26"/></clipPath>
<g clip-path="url(#c524)">
<rect x="136" y="44.45" width="8.5" height="3.9" rx="2.34" ry="1.95" fill="url(#vg40_40_40)" fill-opacity="0.9"/>
<rect x="145.9" y="44.45" width="7.9" height="3.9" rx="2.34" ry="1.95" fill="url(#vg40_40_40)" fill-opacity="0.88"/>
<rect x="155.5" y="44.45" width="8.2" height="3.9" rx="2.34" ry="1.95" fill="url(#vg40_40_40)" fill-opacity="0.88"/>
<rect x="165.6" y="44.45" width="8.4" height="3.9" rx="2.34" ry="1.95" fill="url(#vg40_40_40)" fill-opacity="0.85"/>
<rect x="176.2" y="44.45" width="7.9" height="3.9" rx="2.34" ry="1.95" fill="url(#vg40_40_40)" fill-opacity="0.9"/>
<rect x="186" y="44.45" width="8.7" height="3.9" rx="2.34" ry="1.95" fill="url(#vg40_40_40)" fill-opacity="0.88"/>
<rect x="197.3" y="45.04" width="7.3" height="3.12" rx="1.87" ry="1.56" fill="url(#vg40_40_40)" fill-opacity="0.6"/>
<rect x="207.2" y="44.64" width="6.6" height="3.51" rx="2.11" ry="1.76" fill="url(#vg40_40_40)" fill-opacity="0.65"/>
<rect x="215.8" y="44.15" width="10.5" height="3.9" rx="2.34" ry="1.95" fill="url(#vg40_40_40)" fill-opacity="0.85"/>
<rect x="215.5" y="48" width="10.5" height="8" fill="rgb(40,40,40)" fill-opacity="0.12" filter="url(#bl2)"/>
</g>
<rect x="134.2" y="41.3" width="95.5" height="26" fill="none" stroke="#555" stroke-width="0.8" />
<text x="133.4" y="47.3" font-size="3.1" text-anchor="end" fill="#333" font-weight="normal" >150 kDa –</text>
<text x="134.2" y="71.8" font-size="3.9" text-anchor="start" fill="#222" font-weight="normal" >IB: cMyBP-C</text>
<text x="146.2" y="136.4" font-size="4" text-anchor="middle" fill="#111" font-weight="normal" >Sham</text>
<text x="166.2" y="130.9" font-size="4" text-anchor="middle" fill="#111" font-weight="normal" >TAC</text>
<text x="166.2" y="136.4" font-size="4" text-anchor="middle" fill="#111" font-weight="normal" >3 wks</text>
<text x="186.4" y="130.9" font-size="4" text-anchor="middle" fill="#111" font-weight="normal" >TAC</text>
<text x="186.4" y="136.4" font-size="4" text-anchor="middle" fill="#111" font-weight="normal" >6 wks</text>
<text x="200.5" y="136.4" font-size="4" text-anchor="middle" fill="#111" font-weight="normal" >Sham</text>
<text x="212.2" y="130.9" font-size="4" text-anchor="middle" fill="#111" font-weight="normal" >TAC</text>
<text x="212.2" y="136.4" font-size="4" text-anchor="middle" fill="#111" font-weight="normal" >3 wks</text>
<text x="225.5" y="130.9" font-size="4" text-anchor="middle" fill="#111" font-weight="normal" >TAC</text>
<text x="225.5" y="136.4" font-size="4" text-anchor="middle" fill="#111" font-weight="normal" >6 wks</text>
<line x1="196.7" y1="125" x2="226.7" y2="125" stroke="#a8a8a8" stroke-width="1.3"/>
<text x="211.7" y="122.3" font-size="3.8" text-anchor="middle" fill="#333" font-weight="normal" >hHTxMU</text>
<rect x="133.3" y="138.3" width="95.4" height="12.2" fill="rgb(190,190,190)" stroke="none" stroke-width="0.8" />
<clipPath id="c553"><rect x="133.3" y="138.3" width="95.4" height="12.2"/></clipPath>
<g clip-path="url(#c553)">
<rect x="196" y="138" width="10" height="13" fill="rgb(40,40,40)" fill-opacity="0.12" filter="url(#bl2)"/>
<rect x="137" y="143" width="8.5" height="3" rx="1.8" ry="1.5" fill="url(#vg40_40_40)" fill-opacity="0.55"/>
<rect x="147.9" y="142.85" width="7.8" height="3.3" rx="1.98" ry="1.65" fill="url(#vg40_40_40)" fill-opacity="1"/>
<rect x="158.6" y="143" width="6.4" height="3" rx="1.8" ry="1.5" fill="url(#vg40_40_40)" fill-opacity="0.25"/>
<rect x="167.9" y="143" width="7.5" height="3" rx="1.8" ry="1.5" fill="url(#vg40_40_40)" fill-opacity="0.16"/>
<rect x="180.6" y="143" width="5.9" height="3" rx="1.8" ry="1.5" fill="url(#vg40_40_40)" fill-opacity="0.1"/>
<rect x="188.8" y="143" width="5.8" height="3" rx="1.8" ry="1.5" fill="url(#vg40_40_40)" fill-opacity="0.08"/>
<rect x="198" y="143" width="7" height="3" rx="1.8" ry="1.5" fill="url(#vg40_40_40)" fill-opacity="0.04"/>
<ellipse cx="156.3" cy="141.2" rx="0.6" ry="1.3" fill="#111"/>
</g>
<rect x="133.3" y="138.3" width="95.4" height="12.2" fill="none" stroke="#555" stroke-width="0.8" />
<text x="132.6" y="146.1" font-size="3.1" text-anchor="end" fill="#333" font-weight="normal" >10 kDa –</text>
<text x="133.3" y="154.2" font-size="3.9" text-anchor="start" fill="#222" font-weight="normal" >IB: pSer16 PLN</text>
<rect x="133.3" y="156.3" width="95.4" height="12.4" fill="rgb(196,196,196)" stroke="none" stroke-width="0.8" />
<clipPath id="c569"><rect x="133.3" y="156.3" width="95.4" height="12.4"/></clipPath>
<g clip-path="url(#c569)">
<rect x="133.3" y="156" width="62.7" height="13" fill="rgb(40,40,40)" fill-opacity="0.2" filter="url(#bl2)"/>
<rect x="134" y="156.7" width="8" height="3" rx="1.8" ry="1.5" fill="url(#vg40_40_40)" fill-opacity="0.7"/>
<rect x="144.6" y="156.7" width="7.6" height="3" rx="1.8" ry="1.5" fill="url(#vg40_40_40)" fill-opacity="0.5"/>
<rect x="155.1" y="156.7" width="7.5" height="3" rx="1.8" ry="1.5" fill="url(#vg40_40_40)" fill-opacity="0.5"/>
<rect x="165.3" y="156.7" width="7.4" height="3" rx="1.8" ry="1.5" fill="url(#vg40_40_40)" fill-opacity="0.5"/>
<rect x="176" y="156.7" width="7.9" height="3" rx="1.8" ry="1.5" fill="url(#vg40_40_40)" fill-opacity="0.55"/>
<rect x="187" y="156.7" width="7" height="3" rx="1.8" ry="1.5" fill="url(#vg40_40_40)" fill-opacity="0.55"/>
<rect x="134" y="158.65" width="8" height="2.7" rx="1.62" ry="1.35" fill="url(#vg40_40_40)" fill-opacity="0.6"/>
<rect x="144.6" y="158.65" width="7.6" height="2.7" rx="1.62" ry="1.35" fill="url(#vg40_40_40)" fill-opacity="0.55"/>
<rect x="155.1" y="158.65" width="7.5" height="2.7" rx="1.62" ry="1.35" fill="url(#vg40_40_40)" fill-opacity="0.55"/>
<rect x="165.3" y="158.65" width="7.4" height="2.7" rx="1.62" ry="1.35" fill="url(#vg40_40_40)" fill-opacity="0.5"/>
<rect x="176" y="158.65" width="7.9" height="2.7" rx="1.62" ry="1.35" fill="url(#vg40_40_40)" fill-opacity="0.6"/>
<rect x="187" y="158.65" width="7" height="2.7" rx="1.62" ry="1.35" fill="url(#vg40_40_40)" fill-opacity="0.6"/>
<rect x="133.5" y="158.08" width="9.5" height="8.64" rx="3" ry="4.32" fill="url(#vg40_40_40)" fill-opacity="1"/>
<rect x="144.6" y="160.7" width="8" height="5.4" rx="3" ry="2.7" fill="url(#vg40_40_40)" fill-opacity="1"/>
<rect x="155.1" y="160.7" width="7.9" height="5.4" rx="3" ry="2.7" fill="url(#vg40_40_40)" fill-opacity="1"/>
<rect x="165.3" y="160.7" width="7.7" height="5.4" rx="3" ry="2.7" fill="url(#vg40_40_40)" fill-opacity="1"/>
<rect x="176" y="160.7" width="8.2" height="5.4" rx="3" ry="2.7" fill="url(#vg40_40_40)" fill-opacity="1"/>
<rect x="187" y="160.7" width="7.4" height="5.4" rx="3" ry="2.7" fill="url(#vg40_40_40)" fill-opacity="1"/>
<rect x="198" y="160.7" width="6.5" height="5.4" rx="3" ry="2.7" fill="url(#vg40_40_40)" fill-opacity="0.2"/>
<rect x="208.5" y="160.7" width="6.5" height="5.4" rx="3" ry="2.7" fill="url(#vg40_40_40)" fill-opacity="0.05"/>
<rect x="218" y="160.7" width="6" height="5.4" rx="3" ry="2.7" fill="url(#vg40_40_40)" fill-opacity="0.08"/>
</g>
<rect x="133.3" y="156.3" width="95.4" height="12.4" fill="none" stroke="#555" stroke-width="0.8" />
<text x="132.6" y="165.3" font-size="3.1" text-anchor="end" fill="#333" font-weight="normal" >10 kDa –</text>
<text x="133.3" y="172.6" font-size="3.9" text-anchor="start" fill="#222" font-weight="normal" >IB: PLN</text>
<text x="146.2" y="246.4" font-size="4" text-anchor="middle" fill="#111" font-weight="normal" >Sham</text>
<text x="166.2" y="241.8" font-size="4" text-anchor="middle" fill="#111" font-weight="normal" >TAC</text>
<text x="166.2" y="246.4" font-size="4" text-anchor="middle" fill="#111" font-weight="normal" >3 wks</text>
<text x="186.4" y="241.8" font-size="4" text-anchor="middle" fill="#111" font-weight="normal" >TAC</text>
<text x="186.4" y="246.4" font-size="4" text-anchor="middle" fill="#111" font-weight="normal" >6 wks</text>
<text x="200.5" y="246.4" font-size="4" text-anchor="middle" fill="#111" font-weight="normal" >Sham</text>
<text x="212.2" y="241.8" font-size="4" text-anchor="middle" fill="#111" font-weight="normal" >TAC</text>
<text x="212.2" y="246.4" font-size="4" text-anchor="middle" fill="#111" font-weight="normal" >3 wks</text>
<text x="225.5" y="241.8" font-size="4" text-anchor="middle" fill="#111" font-weight="normal" >TAC</text>
<text x="225.5" y="246.4" font-size="4" text-anchor="middle" fill="#111" font-weight="normal" >6 wks</text>
<line x1="196.7" y1="235.5" x2="226.7" y2="235.5" stroke="#a8a8a8" stroke-width="1.3"/>
<text x="211.7" y="232.7" font-size="3.8" text-anchor="middle" fill="#333" font-weight="normal" >hHTxMU</text>
<rect x="134.2" y="247" width="95.5" height="12.3" fill="rgb(196,196,196)" stroke="none" stroke-width="0.8" />
<clipPath id="c610"><rect x="134.2" y="247" width="95.5" height="12.3"/></clipPath>
<g clip-path="url(#c610)">
<rect x="136" y="250.25" width="7.2" height="2.1" rx="1.26" ry="1.05" fill="url(#vg40_40_40)" fill-opacity="0.06"/>
<rect x="146.5" y="250.25" width="6.6" height="2.1" rx="1.26" ry="1.05" fill="url(#vg40_40_40)" fill-opacity="0.06"/>
<rect x="167.6" y="250.25" width="7.3" height="2.1" rx="1.26" ry="1.05" fill="url(#vg40_40_40)" fill-opacity="0.15"/>
<rect x="178" y="250.25" width="8" height="2.1" rx="1.26" ry="1.05" fill="url(#vg40_40_40)" fill-opacity="0.08"/>
<rect x="188.7" y="250.25" width="7.3" height="2.1" rx="1.26" ry="1.05" fill="url(#vg40_40_40)" fill-opacity="0.2"/>
<rect x="136" y="254.53" width="7.2" height="2.55" rx="1.53" ry="1.27" fill="url(#vg40_40_40)" fill-opacity="0.5"/>
<rect x="146.5" y="254.53" width="6.6" height="2.55" rx="1.53" ry="1.27" fill="url(#vg40_40_40)" fill-opacity="0.7"/>
<rect x="157" y="254.53" width="6.7" height="2.55" rx="1.53" ry="1.27" fill="url(#vg40_40_40)" fill-opacity="0.2"/>
<rect x="167.6" y="253.93" width="7.3" height="2.55" rx="1.53" ry="1.27" fill="url(#vg40_40_40)" fill-opacity="0.55"/>
<rect x="178" y="253.33" width="8" height="2.55" rx="1.53" ry="1.27" fill="url(#vg40_40_40)" fill-opacity="0.8"/>
<rect x="188.7" y="253.93" width="7.3" height="2.55" rx="1.53" ry="1.27" fill="url(#vg40_40_40)" fill-opacity="0.45"/>
<rect x="199" y="254.53" width="7" height="2.55" rx="1.53" ry="1.27" fill="url(#vg40_40_40)" fill-opacity="0.05"/>
<rect x="219" y="252.53" width="5.5" height="2.55" rx="1.53" ry="1.27" fill="url(#vg40_40_40)" fill-opacity="0.1"/>
</g>
<rect x="134.2" y="247" width="95.5" height="12.3" fill="none" stroke="#555" stroke-width="0.8" />
<text x="133.4" y="257.4" font-size="3.1" text-anchor="end" fill="#333" font-weight="normal" >25 kDa –</text>
<text x="134.2" y="263.4" font-size="3.9" text-anchor="start" fill="#222" font-weight="normal" >IB: pSer22/23 cTnI</text>
<rect x="134.2" y="265.2" width="95.5" height="12.4" fill="rgb(192,192,192)" stroke="none" stroke-width="0.8" />
<clipPath id="c630"><rect x="134.2" y="265.2" width="95.5" height="12.4"/></clipPath>
<g clip-path="url(#c630)">
<rect x="134.2" y="270" width="62.8" height="8" fill="rgb(40,40,40)" fill-opacity="0.4" filter="url(#bl2)"/>
<rect x="134.8" y="267.25" width="10.8" height="8.1" rx="3" ry="4.05" fill="url(#vg40_40_40)" fill-opacity="1"/>
<rect x="145.5" y="267.25" width="10.6" height="8.1" rx="3" ry="4.05" fill="url(#vg40_40_40)" fill-opacity="1"/>
<rect x="156" y="267.25" width="10" height="8.1" rx="3" ry="4.05" fill="url(#vg40_40_40)" fill-opacity="1"/>
<rect x="167.2" y="267.25" width="9.4" height="8.1" rx="3" ry="4.05" fill="url(#vg40_40_40)" fill-opacity="0.9"/>
<rect x="177.8" y="267.25" width="8.7" height="8.1" rx="3" ry="4.05" fill="url(#vg40_40_40)" fill-opacity="1"/>
<rect x="187.6" y="267.25" width="9.4" height="8.1" rx="3" ry="4.05" fill="url(#vg40_40_40)" fill-opacity="1"/>
<rect x="199.3" y="269" width="6.6" height="2.4" rx="1.44" ry="1.2" fill="url(#vg40_40_40)" fill-opacity="0.7"/>
<rect x="208.5" y="269" width="3.5" height="2.4" rx="1.44" ry="1.2" fill="url(#vg40_40_40)" fill-opacity="0.15"/>
<rect x="217.8" y="269" width="10.5" height="2.4" rx="1.44" ry="1.2" fill="url(#vg40_40_40)" fill-opacity="0.45"/>
<rect x="225" y="268.5" width="2.2" height="1.5" fill="#111"/>
</g>
<rect x="134.2" y="265.2" width="95.5" height="12.4" fill="none" stroke="#555" stroke-width="0.8" />
<text x="133.4" y="275.3" font-size="3.1" text-anchor="end" fill="#333" font-weight="normal" >25 kDa –</text>
<text x="134.2" y="281.8" font-size="3.9" text-anchor="start" fill="#222" font-weight="normal" >IB: cTnI</text>
<text x="410" y="32.1" font-size="4" text-anchor="middle" fill="#111" font-weight="normal" >Sham</text>
<text x="429.2" y="27.1" font-size="4" text-anchor="middle" fill="#111" font-weight="normal" >TAC</text>
<text x="429.2" y="32.1" font-size="4" text-anchor="middle" fill="#111" font-weight="normal" >3 wks</text>
<text x="448.2" y="27.1" font-size="4" text-anchor="middle" fill="#111" font-weight="normal" >TAC</text>
<text x="448.2" y="32.1" font-size="4" text-anchor="middle" fill="#111" font-weight="normal" >6 wks</text>
<text x="463.2" y="32.1" font-size="4" text-anchor="middle" fill="#111" font-weight="normal" >Sham</text>
<text x="475" y="27.1" font-size="4" text-anchor="middle" fill="#111" font-weight="normal" >TAC</text>
<text x="475" y="32.1" font-size="4" text-anchor="middle" fill="#111" font-weight="normal" >3 wks</text>
<text x="488.2" y="27.1" font-size="4" text-anchor="middle" fill="#111" font-weight="normal" >TAC</text>
<text x="488.2" y="32.1" font-size="4" text-anchor="middle" fill="#111" font-weight="normal" >6 wks</text>
<line x1="459.3" y1="20.8" x2="490.2" y2="20.8" stroke="#a8a8a8" stroke-width="1.3"/>
<text x="474.75" y="18.1" font-size="3.8" text-anchor="middle" fill="#333" font-weight="normal" >hHTxMU</text>
<rect x="397.5" y="33.5" width="95.1" height="11.8" fill="rgb(186,186,186)" stroke="none" stroke-width="0.8" />
<clipPath id="c660"><rect x="397.5" y="33.5" width="95.1" height="11.8"/></clipPath>
<g clip-path="url(#c660)">
<rect x="399.6" y="38.4" width="9.3" height="4.2" rx="2.52" ry="2.1" fill="url(#vg40_40_40)" fill-opacity="0.95"/>
<rect x="409.5" y="38.4" width="9.2" height="4.2" rx="2.52" ry="2.1" fill="url(#vg40_40_40)" fill-opacity="0.95"/>
<rect x="420" y="38.4" width="9.3" height="4.2" rx="2.52" ry="2.1" fill="url(#vg40_40_40)" fill-opacity="0.95"/>
<rect x="430.6" y="38.4" width="8.6" height="4.2" rx="2.52" ry="2.1" fill="url(#vg40_40_40)" fill-opacity="0.8"/>
<rect x="440.5" y="37.5" width="8.6" height="4.2" rx="2.52" ry="2.1" fill="url(#vg40_40_40)" fill-opacity="0.9"/>
<rect x="451" y="37.5" width="9.3" height="4.2" rx="2.52" ry="2.1" fill="url(#vg40_40_40)" fill-opacity="0.9"/>
<rect x="462.3" y="38.4" width="7.9" height="4.2" rx="2.52" ry="2.1" fill="url(#vg40_40_40)" fill-opacity="0.6"/>
<rect x="473.5" y="37.52" width="7.3" height="3.36" rx="2.02" ry="1.68" fill="url(#vg40_40_40)" fill-opacity="0.7"/>
<rect x="482.7" y="35.98" width="7.9" height="5.04" rx="3" ry="2.52" fill="url(#vg40_40_40)" fill-opacity="0.95"/>
</g>
<rect x="397.5" y="33.5" width="95.1" height="11.8" fill="none" stroke="#555" stroke-width="0.8" />
<text x="396.9" y="38.6" font-size="3.1" text-anchor="end" fill="#333" font-weight="normal" >37 kDa –</text>
<text x="398.5" y="49.3" font-size="3.9" text-anchor="start" fill="#222" font-weight="normal" >IB: pSer283 TM1</text>
<rect x="397.5" y="52.1" width="95.1" height="12.6" fill="rgb(178,178,178)" stroke="none" stroke-width="0.8" />
<clipPath id="c676"><rect x="397.5" y="52.1" width="95.1" height="12.6"/></clipPath>
<g clip-path="url(#c676)">
<rect x="400.3" y="56.35" width="7.9" height="3.3" rx="1.98" ry="1.65" fill="url(#vg40_40_40)" fill-opacity="0.8"/>
<rect x="410.2" y="56.35" width="7.9" height="3.3" rx="1.98" ry="1.65" fill="url(#vg40_40_40)" fill-opacity="0.9"/>
<rect x="420" y="56.35" width="8" height="3.3" rx="1.98" ry="1.65" fill="url(#vg40_40_40)" fill-opacity="0.95"/>
<rect x="430.6" y="56.35" width="7.9" height="3.3" rx="1.98" ry="1.65" fill="url(#vg40_40_40)" fill-opacity="0.8"/>
<rect x="440.5" y="56.35" width="7.9" height="3.3" rx="1.98" ry="1.65" fill="url(#vg40_40_40)" fill-opacity="0.6"/>
<rect x="451" y="56.35" width="6.7" height="3.3" rx="1.98" ry="1.65" fill="url(#vg40_40_40)" fill-opacity="0.65"/>
<rect x="461" y="56.35" width="7.9" height="3.3" rx="1.98" ry="1.65" fill="url(#vg40_40_40)" fill-opacity="0.3"/>
<rect x="472.2" y="56.35" width="5.3" height="3.3" rx="1.98" ry="1.65" fill="url(#vg40_40_40)" fill-opacity="0.15"/>
<rect x="482.7" y="55.15" width="4.6" height="3.3" rx="1.98" ry="1.65" fill="url(#vg40_40_40)" fill-opacity="0.35"/>
</g>
<rect x="397.5" y="52.1" width="95.1" height="12.6" fill="none" stroke="#555" stroke-width="0.8" />
<text x="396.9" y="56.9" font-size="3.1" text-anchor="end" fill="#333" font-weight="normal" >37 kDa –</text>
<text x="398.5" y="68.8" font-size="3.9" text-anchor="start" fill="#222" font-weight="normal" >IB: TM1</text>
<text x="410" y="143.4" font-size="4" text-anchor="middle" fill="#111" font-weight="normal" >Sham</text>
<text x="429.2" y="138.8" font-size="4" text-anchor="middle" fill="#111" font-weight="normal" >TAC</text>
<text x="429.2" y="143.4" font-size="4" text-anchor="middle" fill="#111" font-weight="normal" >3 wks</text>
<text x="448.2" y="138.8" font-size="4" text-anchor="middle" fill="#111" font-weight="normal" >TAC</text>
<text x="448.2" y="143.4" font-size="4" text-anchor="middle" fill="#111" font-weight="normal" >6 wks</text>
<text x="463.2" y="143.4" font-size="4" text-anchor="middle" fill="#111" font-weight="normal" >Sham</text>
<text x="475" y="138.8" font-size="4" text-anchor="middle" fill="#111" font-weight="normal" >TAC</text>
<text x="475" y="143.4" font-size="4" text-anchor="middle" fill="#111" font-weight="normal" >3 wks</text>
<text x="488.2" y="138.8" font-size="4" text-anchor="middle" fill="#111" font-weight="normal" >TAC</text>
<text x="488.2" y="143.4" font-size="4" text-anchor="middle" fill="#111" font-weight="normal" >6 wks</text>
<line x1="459.3" y1="132.7" x2="490.2" y2="132.7" stroke="#a8a8a8" stroke-width="1.3"/>
<text x="474.75" y="130.3" font-size="3.8" text-anchor="middle" fill="#333" font-weight="normal" >hHTxMU</text>
<rect x="397.5" y="144.6" width="95.1" height="11.6" fill="rgb(172,172,172)" stroke="none" stroke-width="0.8" />
<clipPath id="c704"><rect x="397.5" y="144.6" width="95.1" height="11.6"/></clipPath>
<g clip-path="url(#c704)">
<rect x="401.6" y="147.85" width="6.6" height="2.1" rx="1.26" ry="1.05" fill="url(#vg40_40_40)" fill-opacity="0.85"/>
<rect x="411.5" y="147.85" width="7.2" height="2.1" rx="1.26" ry="1.05" fill="url(#vg40_40_40)" fill-opacity="0.9"/>
<rect x="421.4" y="147.85" width="5.9" height="2.1" rx="1.26" ry="1.05" fill="url(#vg40_40_40)" fill-opacity="0.25"/>
<rect x="431.3" y="147.85" width="6.6" height="2.1" rx="1.26" ry="1.05" fill="url(#vg40_40_40)" fill-opacity="0.25"/>
<rect x="440.5" y="147.85" width="7.3" height="2.1" rx="1.26" ry="1.05" fill="url(#vg40_40_40)" fill-opacity="0.15"/>
<rect x="450.4" y="147.85" width="7.3" height="2.1" rx="1.26" ry="1.05" fill="url(#vg40_40_40)" fill-opacity="0.18"/>
<rect x="461" y="147.85" width="7" height="2.1" rx="1.26" ry="1.05" fill="url(#vg40_40_40)" fill-opacity="0.05"/>
<rect x="471" y="147.85" width="7" height="2.1" rx="1.26" ry="1.05" fill="url(#vg40_40_40)" fill-opacity="0.04"/>
<rect x="401.6" y="150.25" width="6.6" height="2.1" rx="1.26" ry="1.05" fill="url(#vg40_40_40)" fill-opacity="0.85"/>
<rect x="411.5" y="150.25" width="7.2" height="2.1" rx="1.26" ry="1.05" fill="url(#vg40_40_40)" fill-opacity="0.9"/>
<rect x="421.4" y="150.25" width="5.9" height="2.1" rx="1.26" ry="1.05" fill="url(#vg40_40_40)" fill-opacity="0.25"/>
<rect x="431.3" y="150.25" width="6.6" height="2.1" rx="1.26" ry="1.05" fill="url(#vg40_40_40)" fill-opacity="0.25"/>
<rect x="440.5" y="150.25" width="7.3" height="2.1" rx="1.26" ry="1.05" fill="url(#vg40_40_40)" fill-opacity="0.15"/>
<rect x="450.4" y="150.25" width="7.3" height="2.1" rx="1.26" ry="1.05" fill="url(#vg40_40_40)" fill-opacity="0.18"/>
<rect x="461" y="150.25" width="7" height="2.1" rx="1.26" ry="1.05" fill="url(#vg40_40_40)" fill-opacity="0.05"/>
<rect x="471" y="150.25" width="7" height="2.1" rx="1.26" ry="1.05" fill="url(#vg40_40_40)" fill-opacity="0.04"/>
</g>
<rect x="397.5" y="144.6" width="95.1" height="11.6" fill="none" stroke="#555" stroke-width="0.8" />
<text x="396.9" y="153.6" font-size="3.1" text-anchor="end" fill="#333" font-weight="normal" >37 kDa –</text>
<text x="398.5" y="160.1" font-size="3.9" text-anchor="start" fill="#222" font-weight="normal" >IB: pThr202-Tyr204 ERK</text>
<rect x="397.5" y="162.1" width="95.1" height="12.6" fill="rgb(172,172,172)" stroke="none" stroke-width="0.8" />
<clipPath id="c727"><rect x="397.5" y="162.1" width="95.1" height="12.6"/></clipPath>
<g clip-path="url(#c727)">
<rect x="399.6" y="166.18" width="7.9" height="2.25" rx="1.35" ry="1.12" fill="url(#vg40_40_40)" fill-opacity="0.85"/>
<rect x="409.5" y="166.18" width="8.6" height="2.25" rx="1.35" ry="1.12" fill="url(#vg40_40_40)" fill-opacity="0.85"/>
<rect x="419.4" y="166.18" width="7.9" height="2.25" rx="1.35" ry="1.12" fill="url(#vg40_40_40)" fill-opacity="0.8"/>
<rect x="430" y="166.18" width="7.2" height="2.25" rx="1.35" ry="1.12" fill="url(#vg40_40_40)" fill-opacity="0.75"/>
<rect x="439.9" y="166.18" width="7.9" height="2.25" rx="1.35" ry="1.12" fill="url(#vg40_40_40)" fill-opacity="0.95"/>
<rect x="450.4" y="166.18" width="7.9" height="2.25" rx="1.35" ry="1.12" fill="url(#vg40_40_40)" fill-opacity="0.75"/>
<rect x="461" y="166.18" width="7.9" height="2.25" rx="1.35" ry="1.12" fill="url(#vg40_40_40)" fill-opacity="0.8"/>
<rect x="470.9" y="165.84" width="7.9" height="2.93" rx="1.76" ry="1.46" fill="url(#vg40_40_40)" fill-opacity="1"/>
<rect x="481.4" y="166.18" width="7.9" height="2.25" rx="1.35" ry="1.12" fill="url(#vg40_40_40)" fill-opacity="0.85"/>
<rect x="399.6" y="168.47" width="7.9" height="2.25" rx="1.35" ry="1.12" fill="url(#vg40_40_40)" fill-opacity="0.85"/>
<rect x="409.5" y="168.47" width="8.6" height="2.25" rx="1.35" ry="1.12" fill="url(#vg40_40_40)" fill-opacity="0.85"/>
<rect x="419.4" y="168.47" width="7.9" height="2.25" rx="1.35" ry="1.12" fill="url(#vg40_40_40)" fill-opacity="0.8"/>
<rect x="430" y="168.47" width="7.2" height="2.25" rx="1.35" ry="1.12" fill="url(#vg40_40_40)" fill-opacity="0.75"/>
<rect x="439.9" y="168.47" width="7.9" height="2.25" rx="1.35" ry="1.12" fill="url(#vg40_40_40)" fill-opacity="0.95"/>
<rect x="450.4" y="168.47" width="7.9" height="2.25" rx="1.35" ry="1.12" fill="url(#vg40_40_40)" fill-opacity="0.75"/>
<rect x="461" y="168.47" width="7.9" height="2.25" rx="1.35" ry="1.12" fill="url(#vg40_40_40)" fill-opacity="0.8"/>
<rect x="470.9" y="168.14" width="7.9" height="2.93" rx="1.76" ry="1.46" fill="url(#vg40_40_40)" fill-opacity="1"/>
<rect x="481.4" y="168.47" width="7.9" height="2.25" rx="1.35" ry="1.12" fill="url(#vg40_40_40)" fill-opacity="0.85"/>
</g>
<rect x="397.5" y="162.1" width="95.1" height="12.6" fill="none" stroke="#555" stroke-width="0.8" />
<text x="396.9" y="171.1" font-size="3.1" text-anchor="end" fill="#333" font-weight="normal" >42 kDa –</text>
<text x="398.5" y="178.4" font-size="3.9" text-anchor="start" fill="#222" font-weight="normal" >IB: ERK</text>
<text x="407.8" y="259.8" font-size="4" text-anchor="middle" fill="#111" font-weight="normal" >Sham</text>
<text x="429.8" y="255.1" font-size="4" text-anchor="middle" fill="#111" font-weight="normal" >TAC</text>
<text x="429.8" y="259.8" font-size="4" text-anchor="middle" fill="#111" font-weight="normal" >3 wks</text>
<text x="450.4" y="255.1" font-size="4" text-anchor="middle" fill="#111" font-weight="normal" >TAC</text>
<text x="450.4" y="259.8" font-size="4" text-anchor="middle" fill="#111" font-weight="normal" >6 wks</text>
<text x="466.8" y="259.8" font-size="4" text-anchor="middle" fill="#111" font-weight="normal" >Sham</text>
<text x="477.8" y="255.1" font-size="4" text-anchor="middle" fill="#111" font-weight="normal" >TAC</text>
<text x="477.8" y="259.8" font-size="4" text-anchor="middle" fill="#111" font-weight="normal" >3 wks</text>
<text x="489.4" y="255.1" font-size="4" text-anchor="middle" fill="#111" font-weight="normal" >TAC</text>
<text x="489.4" y="259.8" font-size="4" text-anchor="middle" fill="#111" font-weight="normal" >6 wks</text>
<line x1="461.8" y1="249.7" x2="491.8" y2="249.7" stroke="#a8a8a8" stroke-width="1.3"/>
<text x="476.8" y="245.9" font-size="3.8" text-anchor="middle" fill="#333" font-weight="normal" >hHTxMU</text>
<rect x="397.5" y="260.7" width="96.2" height="12.8" fill="rgb(160,160,160)" stroke="none" stroke-width="0.8" />
<clipPath id="c764"><rect x="397.5" y="260.7" width="96.2" height="12.8"/></clipPath>
<g clip-path="url(#c764)">
<rect x="398" y="262" width="20" height="10" fill="rgb(40,40,40)" fill-opacity="0.08" filter="url(#bl2)"/>
<rect x="420" y="262" width="40" height="10" fill="rgb(40,40,40)" fill-opacity="0.12" filter="url(#bl2)"/>
<rect x="460" y="263" width="15" height="9" fill="rgb(40,40,40)" fill-opacity="0.1" filter="url(#bl2)"/>
<rect x="399" y="264.7" width="10" height="1.8" rx="1.08" ry="0.9" fill="url(#vg40_40_40)" fill-opacity="0.12"/>
<rect x="410" y="264.7" width="8" height="1.8" rx="1.08" ry="0.9" fill="url(#vg40_40_40)" fill-opacity="0.1"/>
<rect x="420" y="264.7" width="10" height="1.8" rx="1.08" ry="0.9" fill="url(#vg40_40_40)" fill-opacity="0.35"/>
<rect x="430.5" y="264.7" width="8.5" height="1.8" rx="1.08" ry="0.9" fill="url(#vg40_40_40)" fill-opacity="0.3"/>
<rect x="441" y="264.7" width="8.5" height="1.8" rx="1.08" ry="0.9" fill="url(#vg40_40_40)" fill-opacity="0.5"/>
<rect x="451" y="264.7" width="8" height="1.8" rx="1.08" ry="0.9" fill="url(#vg40_40_40)" fill-opacity="0.3"/>
<rect x="462" y="264.7" width="10" height="1.8" rx="1.08" ry="0.9" fill="url(#vg40_40_40)" fill-opacity="0.3"/>
<rect x="484" y="264.7" width="4" height="1.8" rx="1.08" ry="0.9" fill="url(#vg40_40_40)" fill-opacity="0.2"/>
<rect x="399" y="268.55" width="10" height="2.1" rx="1.26" ry="1.05" fill="url(#vg40_40_40)" fill-opacity="0.12"/>
<rect x="410" y="268.55" width="8" height="2.1" rx="1.26" ry="1.05" fill="url(#vg40_40_40)" fill-opacity="0.1"/>
<rect x="420" y="268.55" width="10" height="2.1" rx="1.26" ry="1.05" fill="url(#vg40_40_40)" fill-opacity="0.25"/>
<rect x="430.5" y="268.55" width="8.5" height="2.1" rx="1.26" ry="1.05" fill="url(#vg40_40_40)" fill-opacity="0.2"/>
<rect x="441" y="268.55" width="8.5" height="2.1" rx="1.26" ry="1.05" fill="url(#vg40_40_40)" fill-opacity="0.3"/>
<rect x="451" y="268.55" width="8" height="2.1" rx="1.26" ry="1.05" fill="url(#vg40_40_40)" fill-opacity="0.25"/>
<rect x="462" y="268.55" width="10" height="2.1" rx="1.26" ry="1.05" fill="url(#vg40_40_40)" fill-opacity="0.35"/>
<rect x="473" y="268.55" width="8" height="2.1" rx="1.26" ry="1.05" fill="url(#vg40_40_40)" fill-opacity="0.1"/>
</g>
<rect x="397.5" y="260.7" width="96.2" height="12.8" fill="none" stroke="#555" stroke-width="0.8" />
<text x="396.9" y="270.8" font-size="3.1" text-anchor="end" fill="#333" font-weight="normal" >42 kDa –</text>
<text x="398.5" y="277.1" font-size="3.9" text-anchor="start" fill="#222" font-weight="normal" >IB: pThr188 ERK</text>
<rect x="397.5" y="279.2" width="96.5" height="12.2" fill="rgb(188,188,188)" stroke="none" stroke-width="0.8" />
<clipPath id="c790"><rect x="397.5" y="279.2" width="96.5" height="12.2"/></clipPath>
<g clip-path="url(#c790)">
<rect x="400.4" y="284.42" width="6.7" height="1.95" rx="1.17" ry="0.98" fill="url(#vg40_40_40)" fill-opacity="0.8"/>
<rect x="410.5" y="283.82" width="6.7" height="1.95" rx="1.17" ry="0.98" fill="url(#vg40_40_40)" fill-opacity="0.8"/>
<rect x="421.2" y="283.22" width="6.8" height="1.95" rx="1.17" ry="0.98" fill="url(#vg40_40_40)" fill-opacity="0.8"/>
<rect x="431.3" y="282.62" width="6.7" height="1.95" rx="1.17" ry="0.98" fill="url(#vg40_40_40)" fill-opacity="0.85"/>
<rect x="441.4" y="282.02" width="7.4" height="1.95" rx="1.17" ry="0.98" fill="url(#vg40_40_40)" fill-opacity="0.5"/>
<rect x="452.2" y="282.02" width="6.1" height="1.95" rx="1.17" ry="0.98" fill="url(#vg40_40_40)" fill-opacity="0.55"/>
<rect x="461.6" y="281.42" width="8.1" height="1.95" rx="1.17" ry="0.98" fill="url(#vg40_40_40)" fill-opacity="0.95"/>
<rect x="472.4" y="281.22" width="8.1" height="1.95" rx="1.17" ry="0.98" fill="url(#vg40_40_40)" fill-opacity="0.9"/>
<rect x="483.2" y="280.52" width="8" height="1.95" rx="1.17" ry="0.98" fill="url(#vg40_40_40)" fill-opacity="0.9"/>
<rect x="400.4" y="286.92" width="6.7" height="1.95" rx="1.17" ry="0.98" fill="url(#vg40_40_40)" fill-opacity="0.8"/>
<rect x="410.5" y="286.32" width="6.7" height="1.95" rx="1.17" ry="0.98" fill="url(#vg40_40_40)" fill-opacity="0.8"/>
<rect x="421.2" y="285.72" width="6.8" height="1.95" rx="1.17" ry="0.98" fill="url(#vg40_40_40)" fill-opacity="0.8"/>
<rect x="431.3" y="285.12" width="6.7" height="1.95" rx="1.17" ry="0.98" fill="url(#vg40_40_40)" fill-opacity="0.85"/>
<rect x="441.4" y="284.52" width="7.4" height="1.95" rx="1.17" ry="0.98" fill="url(#vg40_40_40)" fill-opacity="0.5"/>
<rect x="452.2" y="284.52" width="6.1" height="1.95" rx="1.17" ry="0.98" fill="url(#vg40_40_40)" fill-opacity="0.55"/>
<rect x="461.6" y="283.92" width="8.1" height="1.95" rx="1.17" ry="0.98" fill="url(#vg40_40_40)" fill-opacity="0.95"/>
<rect x="472.4" y="283.72" width="8.1" height="1.95" rx="1.17" ry="0.98" fill="url(#vg40_40_40)" fill-opacity="0.9"/>
<rect x="483.2" y="283.02" width="8" height="1.95" rx="1.17" ry="0.98" fill="url(#vg40_40_40)" fill-opacity="0.9"/>
</g>
<rect x="397.5" y="279.2" width="96.5" height="12.2" fill="none" stroke="#555" stroke-width="0.8" />
<text x="396.9" y="289.9" font-size="3.1" text-anchor="end" fill="#333" font-weight="normal" >42 kDa –</text>
<text x="398.5" y="295.1" font-size="3.9" text-anchor="start" fill="#222" font-weight="normal" >IB: ERK</text>
<text x="671.2" y="40.9" font-size="4" text-anchor="middle" fill="#111" font-weight="normal" >Sham</text>
<text x="691.4" y="35.9" font-size="4" text-anchor="middle" fill="#111" font-weight="normal" >TAC</text>
<text x="691.4" y="40.9" font-size="4" text-anchor="middle" fill="#111" font-weight="normal" >3 wks</text>
<text x="712.4" y="35.9" font-size="4" text-anchor="middle" fill="#111" font-weight="normal" >TAC</text>
<text x="712.4" y="40.9" font-size="4" text-anchor="middle" fill="#111" font-weight="normal" >6 wks</text>
<text x="728.8" y="40.9" font-size="4" text-anchor="middle" fill="#111" font-weight="normal" >Sham</text>
<text x="738.6" y="35.9" font-size="4" text-anchor="middle" fill="#111" font-weight="normal" >TAC</text>
<text x="738.6" y="40.9" font-size="4" text-anchor="middle" fill="#111" font-weight="normal" >3 wks</text>
<text x="752.4" y="35.9" font-size="4" text-anchor="middle" fill="#111" font-weight="normal" >TAC</text>
<text x="752.4" y="40.9" font-size="4" text-anchor="middle" fill="#111" font-weight="normal" >6 wks</text>
<line x1="723.3" y1="28.5" x2="753.3" y2="28.5" stroke="#a8a8a8" stroke-width="1.3"/>
<text x="738.3" y="25.6" font-size="3.8" text-anchor="middle" fill="#333" font-weight="normal" >hHTxMU</text>
<rect x="659" y="42.4" width="95.6" height="11.4" fill="rgb(168,168,168)" stroke="none" stroke-width="0.8" />
<clipPath id="c827"><rect x="659" y="42.4" width="95.6" height="11.4"/></clipPath>
<g clip-path="url(#c827)">
<rect x="661.6" y="45.88" width="7.9" height="2.85" rx="1.71" ry="1.42" fill="url(#vg40_40_40)" fill-opacity="0.3"/>
<rect x="672.2" y="47.08" width="7.9" height="2.85" rx="1.71" ry="1.42" fill="url(#vg40_40_40)" fill-opacity="0.55"/>
<rect x="682.7" y="47.08" width="7.9" height="2.85" rx="1.71" ry="1.42" fill="url(#vg40_40_40)" fill-opacity="0.75"/>
<rect x="692.6" y="47.08" width="7.9" height="2.85" rx="1.71" ry="1.42" fill="url(#vg40_40_40)" fill-opacity="0.8"/>
<rect x="702.5" y="47.68" width="6" height="2.85" rx="1.71" ry="1.42" fill="url(#vg40_40_40)" fill-opacity="0.6"/>
<rect x="712.4" y="46.65" width="9.9" height="3.7" rx="2.22" ry="1.85" fill="url(#vg40_40_40)" fill-opacity="0.95"/>
<rect x="724.3" y="47.08" width="8.6" height="2.85" rx="1.71" ry="1.42" fill="url(#vg40_40_40)" fill-opacity="0.45"/>
<rect x="734" y="47.08" width="7" height="2.85" rx="1.71" ry="1.42" fill="url(#vg40_40_40)" fill-opacity="0.06"/>
<rect x="744.7" y="47.08" width="6.6" height="2.85" rx="1.71" ry="1.42" fill="url(#vg40_40_40)" fill-opacity="0.45"/>
<ellipse cx="685.4" cy="46" rx="0.9" ry="0.8" fill="#222"/>
<ellipse cx="741.4" cy="42.9" rx="1.4" ry="0.6" fill="#222"/>
</g>
<rect x="659" y="42.4" width="95.6" height="11.4" fill="none" stroke="#555" stroke-width="0.8" />
<text x="658.6" y="44.4" font-size="3.1" text-anchor="end" fill="#333" font-weight="normal" >37 kDa –</text>
<text x="659.5" y="57.1" font-size="3.9" text-anchor="start" fill="#222" font-weight="normal" >IB: FHL1</text>
<rect x="659" y="58.5" width="95.6" height="13.1" fill="#e6ebfc" stroke="none" stroke-width="0.8" />
<clipPath id="c845"><rect x="659" y="58.5" width="95.6" height="13.1"/></clipPath>
<g clip-path="url(#c845)">
<rect x="660.3" y="60.5" width="9.2" height="9" rx="2.5" fill="rgb(135,152,228)" fill-opacity="0.2" filter="url(#bl2)"/>
<rect x="671.5" y="60.5" width="7.3" height="9" rx="2.5" fill="rgb(135,152,228)" fill-opacity="0.12" filter="url(#bl2)"/>
<rect x="682" y="60.5" width="7.3" height="9" rx="2.5" fill="rgb(135,152,228)" fill-opacity="0.08" filter="url(#bl2)"/>
<rect x="692" y="60.5" width="8.5" height="9" rx="2.5" fill="rgb(135,152,228)" fill-opacity="0.08" filter="url(#bl2)"/>
<rect x="702.5" y="60.5" width="7.9" height="9" rx="2.5" fill="rgb(135,152,228)" fill-opacity="0.13" filter="url(#bl2)"/>
<rect x="712.4" y="60.5" width="7.9" height="9" rx="2.5" fill="rgb(135,152,228)" fill-opacity="0.14" filter="url(#bl2)"/>
<rect x="723.6" y="60.5" width="7.3" height="9" rx="2.5" fill="rgb(135,152,228)" fill-opacity="0.17" filter="url(#bl2)"/>
<rect x="733.5" y="60.5" width="7.9" height="9" rx="2.5" fill="rgb(135,152,228)" fill-opacity="0.08" filter="url(#bl2)"/>
<rect x="744" y="60.5" width="8" height="9" rx="2.5" fill="rgb(135,152,228)" fill-opacity="0.11" filter="url(#bl2)"/>
<rect x="660.3" y="62" width="9.2" height="2.4" rx="1.44" ry="1.2" fill="url(#vg135_152_228)" fill-opacity="0.41"/>
<rect x="671.5" y="62" width="7.3" height="2.4" rx="1.44" ry="1.2" fill="url(#vg135_152_228)" fill-opacity="0.25"/>
<rect x="682" y="62" width="7.3" height="2.4" rx="1.44" ry="1.2" fill="url(#vg135_152_228)" fill-opacity="0.16"/>
<rect x="692" y="62" width="8.5" height="2.4" rx="1.44" ry="1.2" fill="url(#vg135_152_228)" fill-opacity="0.16"/>
<rect x="702.5" y="62" width="7.9" height="2.4" rx="1.44" ry="1.2" fill="url(#vg135_152_228)" fill-opacity="0.27"/>
<rect x="712.4" y="62" width="7.9" height="2.4" rx="1.44" ry="1.2" fill="url(#vg135_152_228)" fill-opacity="0.29"/>
<rect x="723.6" y="62" width="7.3" height="2.4" rx="1.44" ry="1.2" fill="url(#vg135_152_228)" fill-opacity="0.34"/>
<rect x="733.5" y="62" width="7.9" height="2.4" rx="1.44" ry="1.2" fill="url(#vg135_152_228)" fill-opacity="0.16"/>
<rect x="744" y="62" width="8" height="2.4" rx="1.44" ry="1.2" fill="url(#vg135_152_228)" fill-opacity="0.23"/>
<rect x="660.3" y="65.4" width="9.2" height="2.4" rx="1.44" ry="1.2" fill="url(#vg135_152_228)" fill-opacity="0.5"/>
<rect x="671.5" y="65.4" width="7.3" height="2.4" rx="1.44" ry="1.2" fill="url(#vg135_152_228)" fill-opacity="0.3"/>
<rect x="682" y="65.4" width="7.3" height="2.4" rx="1.44" ry="1.2" fill="url(#vg135_152_228)" fill-opacity="0.19"/>
<rect x="692" y="65.4" width="8.5" height="2.4" rx="1.44" ry="1.2" fill="url(#vg135_152_228)" fill-opacity="0.19"/>
<rect x="702.5" y="65.4" width="7.9" height="2.4" rx="1.44" ry="1.2" fill="url(#vg135_152_228)" fill-opacity="0.33"/>
<rect x="712.4" y="65.4" width="7.9" height="2.4" rx="1.44" ry="1.2" fill="url(#vg135_152_228)" fill-opacity="0.36"/>
<rect x="723.6" y="65.4" width="7.3" height="2.4" rx="1.44" ry="1.2" fill="url(#vg135_152_228)" fill-opacity="0.41"/>
<rect x="733.5" y="65.4" width="7.9" height="2.4" rx="1.44" ry="1.2" fill="url(#vg135_152_228)" fill-opacity="0.19"/>
<rect x="744" y="65.4" width="8" height="2.4" rx="1.44" ry="1.2" fill="url(#vg135_152_228)" fill-opacity="0.28"/>
</g>
<rect x="659" y="58.5" width="95.6" height="13.1" fill="none" stroke="#777" stroke-width="0.8" />
<text x="659.8" y="75.1" font-size="3.9" text-anchor="start" fill="#222" font-weight="normal" >Coomassie stain</text>
<text x="671.2" y="172.1" font-size="4" text-anchor="middle" fill="#111" font-weight="normal" >Sham</text>
<text x="691.4" y="167.1" font-size="4" text-anchor="middle" fill="#111" font-weight="normal" >TAC</text>
<text x="691.4" y="172.1" font-size="4" text-anchor="middle" fill="#111" font-weight="normal" >3 wks</text>
<text x="712.4" y="167.1" font-size="4" text-anchor="middle" fill="#111" font-weight="normal" >TAC</text>
<text x="712.4" y="172.1" font-size="4" text-anchor="middle" fill="#111" font-weight="normal" >6 wks</text>
<text x="728.8" y="172.1" font-size="4" text-anchor="middle" fill="#111" font-weight="normal" >Sham</text>
<text x="738.6" y="167.1" font-size="4" text-anchor="middle" fill="#111" font-weight="normal" >TAC</text>
<text x="738.6" y="172.1" font-size="4" text-anchor="middle" fill="#111" font-weight="normal" >3 wks</text>
<text x="752.4" y="167.1" font-size="4" text-anchor="middle" fill="#111" font-weight="normal" >TAC</text>
<text x="752.4" y="172.1" font-size="4" text-anchor="middle" fill="#111" font-weight="normal" >6 wks</text>
<line x1="723.3" y1="160.8" x2="753.3" y2="160.8" stroke="#a8a8a8" stroke-width="1.3"/>
<text x="738.3" y="157.6" font-size="3.8" text-anchor="middle" fill="#333" font-weight="normal" >hHTxMU</text>
<rect x="659" y="173.6" width="95.6" height="13.8" fill="rgb(180,180,180)" stroke="none" stroke-width="0.8" />
<clipPath id="c890"><rect x="659" y="173.6" width="95.6" height="13.8"/></clipPath>
<g clip-path="url(#c890)">
<rect x="661.6" y="178.64" width="9.3" height="4.73" rx="2.84" ry="2.36" fill="url(#vg40_40_40)" fill-opacity="1"/>
<rect x="672.8" y="179.43" width="7.3" height="3.15" rx="1.89" ry="1.58" fill="url(#vg40_40_40)" fill-opacity="0.8"/>
<rect x="682.7" y="179.43" width="6.6" height="3.15" rx="1.89" ry="1.58" fill="url(#vg40_40_40)" fill-opacity="0.35"/>
<rect x="692.6" y="179.43" width="7.3" height="3.15" rx="1.89" ry="1.58" fill="url(#vg40_40_40)" fill-opacity="0.4"/>
<rect x="704.5" y="179.43" width="6.6" height="3.15" rx="1.89" ry="1.58" fill="url(#vg40_40_40)" fill-opacity="0.95"/>
<rect x="713.7" y="179.43" width="7.9" height="3.15" rx="1.89" ry="1.58" fill="url(#vg40_40_40)" fill-opacity="0.7"/>
<rect x="725" y="179.43" width="5.9" height="3.15" rx="1.89" ry="1.58" fill="url(#vg40_40_40)" fill-opacity="0.3"/>
<rect x="734.8" y="179.43" width="7.3" height="3.15" rx="1.89" ry="1.58" fill="url(#vg40_40_40)" fill-opacity="0.35"/>
<rect x="746" y="178.43" width="7" height="3.15" rx="1.89" ry="1.58" fill="url(#vg40_40_40)" fill-opacity="0.75"/>
</g>
<rect x="659" y="173.6" width="95.6" height="13.8" fill="none" stroke="#555" stroke-width="0.8" />
<text x="658.6" y="185.3" font-size="3.1" text-anchor="end" fill="#333" font-weight="normal" >25 kDa –</text>
<text x="659.5" y="190.9" font-size="3.9" text-anchor="start" fill="#222" font-weight="normal" >IB: FHL2</text>
<rect x="659" y="193.1" width="95.6" height="13.9" fill="#eef1fd" stroke="none" stroke-width="0.8" />
<clipPath id="c906"><rect x="659" y="193.1" width="95.6" height="13.9"/></clipPath>
<g clip-path="url(#c906)">
<rect x="661" y="194.6" width="8" height="6" rx="2.5" fill="rgb(135,152,228)" fill-opacity="0.21" filter="url(#bl2)"/>
<rect x="671.5" y="194.6" width="8" height="6" rx="2.5" fill="rgb(135,152,228)" fill-opacity="0.21" filter="url(#bl2)"/>
<rect x="682" y="194.6" width="7.3" height="6" rx="2.5" fill="rgb(135,152,228)" fill-opacity="0.18" filter="url(#bl2)"/>
<rect x="692.5" y="194.6" width="8" height="6" rx="2.5" fill="rgb(135,152,228)" fill-opacity="0.24" filter="url(#bl2)"/>
<rect x="703" y="194.6" width="8" height="6" rx="2.5" fill="rgb(135,152,228)" fill-opacity="0.21" filter="url(#bl2)"/>
<rect x="713.7" y="194.6" width="7.3" height="6" rx="2.5" fill="rgb(135,152,228)" fill-opacity="0.15" filter="url(#bl2)"/>
<rect x="723.6" y="194.6" width="8.6" height="6" rx="2.5" fill="rgb(135,152,228)" fill-opacity="0.24" filter="url(#bl2)"/>
<rect x="734.8" y="194.6" width="8" height="6" rx="2.5" fill="rgb(135,152,228)" fill-opacity="0.21" filter="url(#bl2)"/>
<rect x="746" y="194.6" width="7.3" height="6" rx="2.5" fill="rgb(135,152,228)" fill-opacity="0.18" filter="url(#bl2)"/>
<rect x="661" y="198.4" width="8" height="1.8" rx="1.08" ry="0.9" fill="url(#vg135_152_228)" fill-opacity="0.39"/>
<rect x="671.5" y="198.4" width="8" height="1.8" rx="1.08" ry="0.9" fill="url(#vg135_152_228)" fill-opacity="0.39"/>
<rect x="682" y="198.4" width="7.3" height="1.8" rx="1.08" ry="0.9" fill="url(#vg135_152_228)" fill-opacity="0.33"/>
<rect x="692.5" y="198.4" width="8" height="1.8" rx="1.08" ry="0.9" fill="url(#vg135_152_228)" fill-opacity="0.44"/>
<rect x="703" y="198.4" width="8" height="1.8" rx="1.08" ry="0.9" fill="url(#vg135_152_228)" fill-opacity="0.39"/>
<rect x="713.7" y="198.4" width="7.3" height="1.8" rx="1.08" ry="0.9" fill="url(#vg135_152_228)" fill-opacity="0.28"/>
<rect x="723.6" y="198.4" width="8.6" height="1.8" rx="1.08" ry="0.9" fill="url(#vg135_152_228)" fill-opacity="0.44"/>
<rect x="734.8" y="198.4" width="8" height="1.8" rx="1.08" ry="0.9" fill="url(#vg135_152_228)" fill-opacity="0.39"/>
<rect x="746" y="198.4" width="7.3" height="1.8" rx="1.08" ry="0.9" fill="url(#vg135_152_228)" fill-opacity="0.33"/>
<rect x="703" y="201.5" width="8" height="4" rx="2" fill="rgb(135,152,228)" fill-opacity="0.15" filter="url(#bl2)"/>
<rect x="746" y="201.5" width="7.3" height="4" rx="2" fill="rgb(135,152,228)" fill-opacity="0.25" filter="url(#bl2)"/>
</g>
<rect x="659" y="193.1" width="95.6" height="13.9" fill="none" stroke="#555" stroke-width="0.8" />
<text x="659.8" y="210.4" font-size="3.9" text-anchor="start" fill="#222" font-weight="normal" >Coomassie stain</text>
<defs><linearGradient id="vg40_40_40" x1="0" y1="0" x2="0" y2="1"><stop offset="0" stop-color="rgb(40,40,40)" stop-opacity="0"/><stop offset="0.3" stop-color="rgb(40,40,40)" stop-opacity="0.85"/><stop offset="0.5" stop-color="rgb(40,40,40)" stop-opacity="1"/><stop offset="0.7" stop-color="rgb(40,40,40)" stop-opacity="0.85"/><stop offset="1" stop-color="rgb(40,40,40)" stop-opacity="0"/></linearGradient><linearGradient id="vg135_152_228" x1="0" y1="0" x2="0" y2="1"><stop offset="0" stop-color="rgb(135,152,228)" stop-opacity="0"/><stop offset="0.3" stop-color="rgb(135,152,228)" stop-opacity="0.85"/><stop offset="0.5" stop-color="rgb(135,152,228)" stop-opacity="1"/><stop offset="0.7" stop-color="rgb(135,152,228)" stop-opacity="0.85"/><stop offset="1" stop-color="rgb(135,152,228)" stop-opacity="0"/></linearGradient></defs>
</svg>
</body></html>
